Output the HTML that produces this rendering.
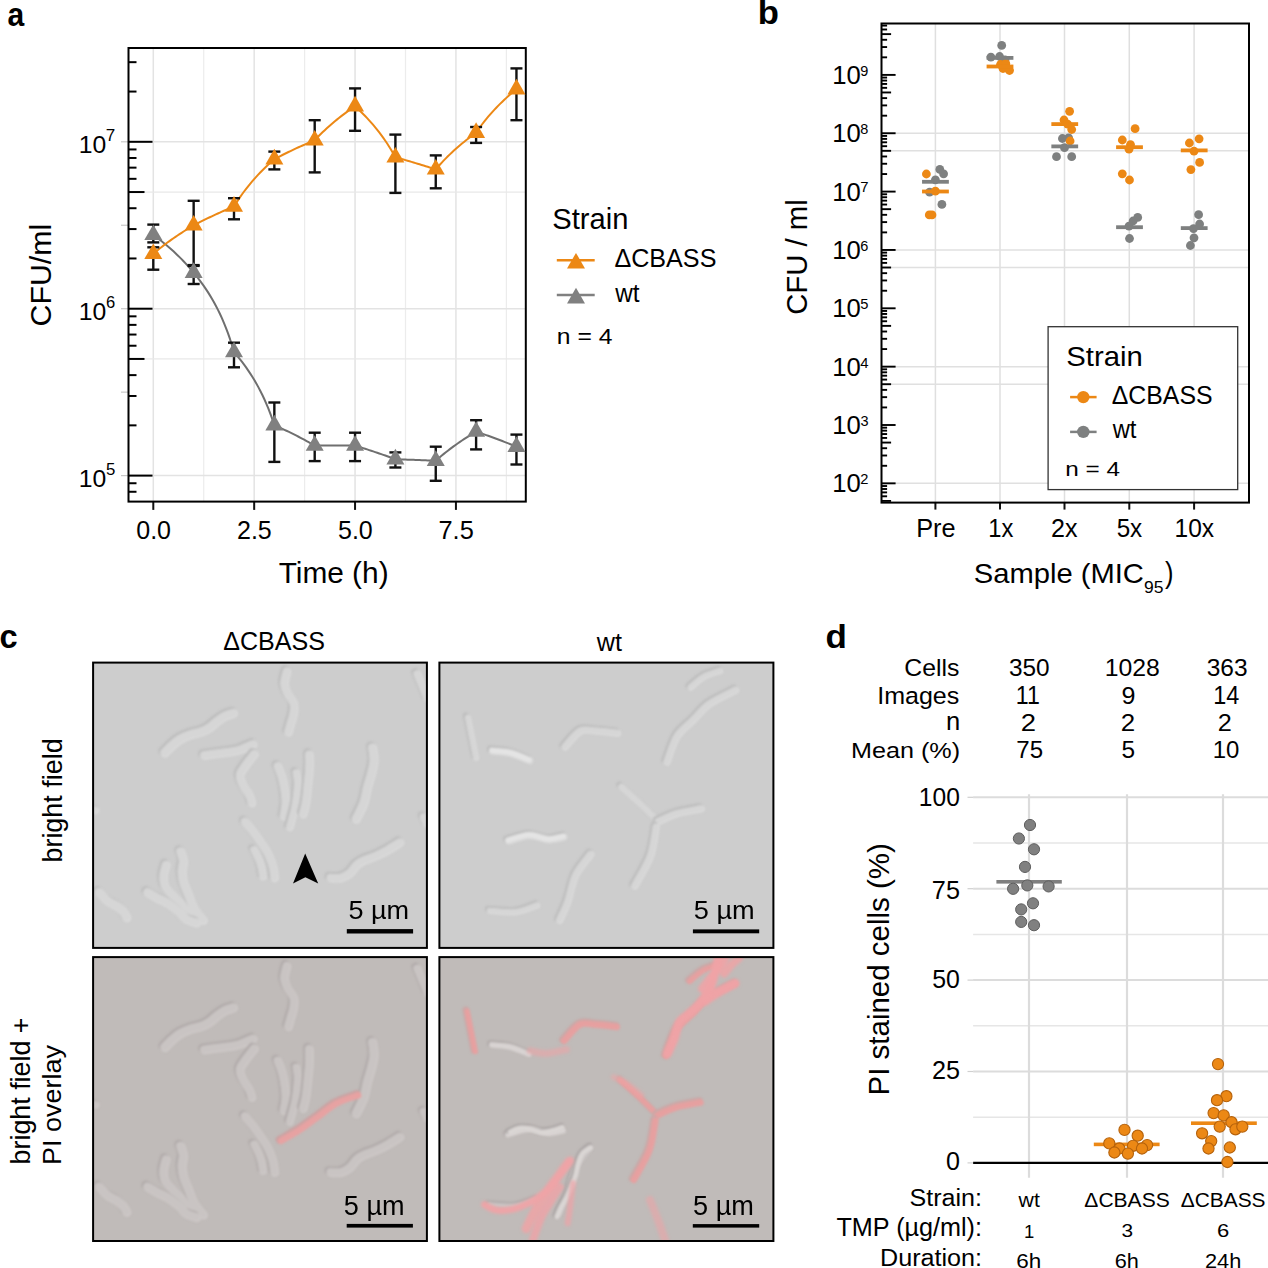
<!DOCTYPE html>
<html><head><meta charset="utf-8"><style>
html,body{margin:0;padding:0;background:#fff;overflow:hidden;}
svg{display:block;}
text{font-family:"Liberation Sans",sans-serif;}
</style></head><body>
<svg width="1268" height="1268" viewBox="0 0 1268 1268">
<rect width="1268" height="1268" fill="#fff"/>
<text transform="translate(7.40,26.17) scale(0.9039,1)" font-size="33.24" font-weight="bold" fill="#000">a</text>
<line x1="153.30" y1="48.00" x2="153.30" y2="501.60" stroke="#E3E3E3" stroke-width="1.5" />
<line x1="203.74" y1="48.00" x2="203.74" y2="501.60" stroke="#ECECEC" stroke-width="1.2" />
<line x1="254.18" y1="48.00" x2="254.18" y2="501.60" stroke="#E3E3E3" stroke-width="1.5" />
<line x1="304.62" y1="48.00" x2="304.62" y2="501.60" stroke="#ECECEC" stroke-width="1.2" />
<line x1="355.06" y1="48.00" x2="355.06" y2="501.60" stroke="#E3E3E3" stroke-width="1.5" />
<line x1="405.50" y1="48.00" x2="405.50" y2="501.60" stroke="#ECECEC" stroke-width="1.2" />
<line x1="455.94" y1="48.00" x2="455.94" y2="501.60" stroke="#E3E3E3" stroke-width="1.5" />
<line x1="506.38" y1="48.00" x2="506.38" y2="501.60" stroke="#ECECEC" stroke-width="1.2" />
<line x1="128.50" y1="475.60" x2="525.80" y2="475.60" stroke="#E3E3E3" stroke-width="1.5" />
<line x1="128.50" y1="358.94" x2="525.80" y2="358.94" stroke="#E8E8E8" stroke-width="1.3" />
<line x1="128.50" y1="308.70" x2="525.80" y2="308.70" stroke="#E3E3E3" stroke-width="1.5" />
<line x1="128.50" y1="192.04" x2="525.80" y2="192.04" stroke="#E8E8E8" stroke-width="1.3" />
<line x1="128.50" y1="141.80" x2="525.80" y2="141.80" stroke="#E3E3E3" stroke-width="1.5" />
<line x1="121.00" y1="475.60" x2="128.50" y2="475.60" stroke="#c8c8c8" stroke-width="1.2" />
<line x1="121.00" y1="392.15" x2="128.50" y2="392.15" stroke="#c8c8c8" stroke-width="1.2" />
<line x1="121.00" y1="308.70" x2="128.50" y2="308.70" stroke="#c8c8c8" stroke-width="1.2" />
<line x1="121.00" y1="225.25" x2="128.50" y2="225.25" stroke="#c8c8c8" stroke-width="1.2" />
<line x1="121.00" y1="141.80" x2="128.50" y2="141.80" stroke="#c8c8c8" stroke-width="1.2" />
<line x1="128.50" y1="491.77" x2="136.50" y2="491.77" stroke="#000" stroke-width="2" />
<line x1="128.50" y1="483.24" x2="136.50" y2="483.24" stroke="#000" stroke-width="2" />
<line x1="128.50" y1="475.60" x2="152.50" y2="475.60" stroke="#000" stroke-width="2" />
<line x1="128.50" y1="425.36" x2="136.50" y2="425.36" stroke="#000" stroke-width="2" />
<line x1="128.50" y1="395.97" x2="136.50" y2="395.97" stroke="#000" stroke-width="2" />
<line x1="128.50" y1="375.12" x2="136.50" y2="375.12" stroke="#000" stroke-width="2" />
<line x1="128.50" y1="358.94" x2="144.50" y2="358.94" stroke="#000" stroke-width="2" />
<line x1="128.50" y1="345.73" x2="136.50" y2="345.73" stroke="#000" stroke-width="2" />
<line x1="128.50" y1="334.55" x2="136.50" y2="334.55" stroke="#000" stroke-width="2" />
<line x1="128.50" y1="324.87" x2="136.50" y2="324.87" stroke="#000" stroke-width="2" />
<line x1="128.50" y1="316.34" x2="136.50" y2="316.34" stroke="#000" stroke-width="2" />
<line x1="128.50" y1="308.70" x2="152.50" y2="308.70" stroke="#000" stroke-width="2" />
<line x1="128.50" y1="258.46" x2="136.50" y2="258.46" stroke="#000" stroke-width="2" />
<line x1="128.50" y1="229.07" x2="136.50" y2="229.07" stroke="#000" stroke-width="2" />
<line x1="128.50" y1="208.22" x2="136.50" y2="208.22" stroke="#000" stroke-width="2" />
<line x1="128.50" y1="192.04" x2="144.50" y2="192.04" stroke="#000" stroke-width="2" />
<line x1="128.50" y1="178.83" x2="136.50" y2="178.83" stroke="#000" stroke-width="2" />
<line x1="128.50" y1="167.65" x2="136.50" y2="167.65" stroke="#000" stroke-width="2" />
<line x1="128.50" y1="157.97" x2="136.50" y2="157.97" stroke="#000" stroke-width="2" />
<line x1="128.50" y1="149.44" x2="136.50" y2="149.44" stroke="#000" stroke-width="2" />
<line x1="128.50" y1="141.80" x2="152.50" y2="141.80" stroke="#000" stroke-width="2" />
<line x1="128.50" y1="91.56" x2="136.50" y2="91.56" stroke="#000" stroke-width="2" />
<line x1="128.50" y1="62.17" x2="136.50" y2="62.17" stroke="#000" stroke-width="2" />
<line x1="153.30" y1="501.60" x2="153.30" y2="509.90" stroke="#111" stroke-width="2" />
<text transform="translate(136.23,539.35)" font-size="25.02" fill="#000">0.0</text>
<line x1="254.18" y1="501.60" x2="254.18" y2="509.90" stroke="#111" stroke-width="2" />
<text transform="translate(237.01,539.35)" font-size="25.02" fill="#000">2.5</text>
<line x1="355.05" y1="501.60" x2="355.05" y2="509.90" stroke="#111" stroke-width="2" />
<text transform="translate(337.98,539.35)" font-size="25.02" fill="#000">5.0</text>
<line x1="455.93" y1="501.60" x2="455.93" y2="509.90" stroke="#111" stroke-width="2" />
<text transform="translate(438.48,539.35)" font-size="25.38" fill="#000">7.5</text>
<rect x="128.5" y="48.0" width="397.29999999999995" height="453.6" fill="none" stroke="#000" stroke-width="2"/>
<text transform="translate(78.86,153.15)" font-size="24.73" fill="#000">10</text>
<text transform="translate(105.86,141.10)" font-size="17.02" fill="#000">7</text>
<text transform="translate(78.86,320.05)" font-size="24.73" fill="#000">10</text>
<text transform="translate(105.95,307.83)" font-size="16.54" fill="#000">6</text>
<text transform="translate(78.86,486.95)" font-size="24.73" fill="#000">10</text>
<text transform="translate(105.95,474.73)" font-size="16.77" fill="#000">5</text>
<text transform="translate(50.50,326.41) rotate(-90) scale(1.0207,1)" font-size="29.66" fill="#000">CFU/ml</text>
<text transform="translate(278.63,583.19) scale(1.0313,1)" font-size="28.95" fill="#000">Time (h)</text>
<path d="M153.30,234.90L155.32,236.39L157.34,237.91L159.35,239.46L161.37,241.04L163.39,242.67L165.41,244.32L167.42,246.02L169.44,247.76L171.46,249.54L173.48,251.36L175.49,253.24L177.51,255.16L179.53,257.13L181.55,259.16L183.56,261.25L185.58,263.40L187.60,265.62L189.62,267.90L191.63,270.26L193.65,272.70L195.67,275.15L197.69,277.69L199.70,280.32L201.72,283.05L203.74,285.89L205.76,288.85L207.77,291.92L209.79,295.14L211.81,298.50L213.83,302.03L215.84,305.74L217.86,309.65L219.88,313.78L221.90,318.16L223.91,322.83L225.93,327.81L227.95,333.16L229.97,338.94L231.98,345.22L234.00,352.10L236.02,354.44L238.04,356.86L240.05,359.36L242.07,361.95L244.09,364.64L246.11,367.42L248.12,370.33L250.14,373.35L252.16,376.50L254.18,379.80L256.19,383.26L258.21,386.88L260.23,390.70L262.25,394.73L264.26,399.00L266.28,403.54L268.30,408.38L270.31,413.56L272.33,419.15L274.35,425.20L276.37,426.09L278.38,427.00L280.40,427.92L282.42,428.85L284.44,429.79L286.46,430.74L288.47,431.71L290.49,432.69L292.51,433.68L294.52,434.68L296.54,435.71L298.56,436.74L300.58,437.79L302.60,438.86L304.61,439.94L306.63,441.03L308.65,442.15L310.67,443.28L312.68,444.43L314.70,445.60L316.72,445.60L318.74,445.60L320.75,445.60L322.77,445.60L324.79,445.60L326.81,445.60L328.82,445.60L330.84,445.60L332.86,445.60L334.88,445.60L336.89,445.60L338.91,445.60L340.93,445.60L342.95,445.60L344.96,445.60L346.98,445.60L349.00,445.60L351.02,445.60L353.03,445.60L355.05,445.60L357.07,446.22L359.09,446.85L361.10,447.48L363.12,448.12L365.14,448.77L367.15,449.42L369.17,450.08L371.19,450.74L373.21,451.41L375.23,452.08L377.24,452.76L379.26,453.45L381.28,454.14L383.30,454.85L385.31,455.55L387.33,456.27L389.35,456.99L391.37,457.72L393.38,458.46L395.40,459.20L397.42,459.27L399.44,459.35L401.45,459.42L403.47,459.50L405.49,459.57L407.50,459.65L409.52,459.72L411.54,459.80L413.56,459.87L415.58,459.95L417.59,460.02L419.61,460.10L421.63,460.17L423.65,460.25L425.66,460.32L427.68,460.40L429.70,460.47L431.72,460.55L433.73,460.62L435.75,460.70L437.77,458.93L439.79,457.20L441.80,455.52L443.82,453.87L445.84,452.26L447.86,450.68L449.87,449.14L451.89,447.63L453.91,446.15L455.93,444.70L457.94,443.28L459.96,441.88L461.98,440.52L464.00,439.17L466.01,437.85L468.03,436.56L470.05,435.29L472.07,434.04L474.08,432.81L476.10,431.60L478.12,432.28L480.13,432.98L482.15,433.67L484.17,434.38L486.19,435.09L488.21,435.81L490.22,436.54L492.24,437.27L494.26,438.01L496.28,438.76L498.29,439.51L500.31,440.28L502.33,441.05L504.34,441.83L506.36,442.62L508.38,443.42L510.40,444.22L512.41,445.04L514.43,445.87L516.45,446.70" fill="none" stroke="#6f6f6f" stroke-width="2" stroke-linejoin="round"/>
<path d="M153.30,253.80L155.32,252.08L157.34,250.40L159.35,248.76L161.37,247.16L163.39,245.59L165.41,244.06L167.42,242.55L169.44,241.08L171.46,239.63L173.48,238.22L175.49,236.83L177.51,235.47L179.53,234.13L181.55,232.82L183.56,231.53L185.58,230.26L187.60,229.01L189.62,227.79L191.63,226.58L193.65,225.40L195.67,224.33L197.69,223.27L199.70,222.23L201.72,221.21L203.74,220.19L205.76,219.20L207.77,218.21L209.79,217.24L211.81,216.28L213.83,215.34L215.84,214.40L217.86,213.48L219.88,212.57L221.90,211.67L223.91,210.78L225.93,209.91L227.95,209.04L229.97,208.18L231.98,207.34L234.00,206.50L236.02,203.24L238.04,200.12L240.05,197.13L242.07,194.25L244.09,191.49L246.11,188.83L248.12,186.26L250.14,183.78L252.16,181.38L254.18,179.06L256.19,176.81L258.21,174.63L260.23,172.51L262.25,170.45L264.26,168.45L266.28,166.50L268.30,164.61L270.31,162.76L272.33,160.96L274.35,159.20L276.37,158.13L278.38,157.07L280.40,156.03L282.42,155.01L284.44,153.99L286.46,153.00L288.47,152.01L290.49,151.04L292.51,150.08L294.52,149.14L296.54,148.20L298.56,147.28L300.58,146.37L302.60,145.47L304.61,144.58L306.63,143.71L308.65,142.84L310.67,141.98L312.68,141.14L314.70,140.30L316.72,138.15L318.74,136.07L320.75,134.05L322.77,132.08L324.79,130.16L326.81,128.29L328.82,126.47L330.84,124.69L332.86,122.96L334.88,121.26L336.89,119.61L338.91,117.99L340.93,116.41L342.95,114.86L344.96,113.34L346.98,111.86L349.00,110.40L351.02,108.97L353.03,107.57L355.05,106.20L357.07,108.06L359.09,109.96L361.10,111.92L363.12,113.93L365.14,116.00L367.15,118.13L369.17,120.33L371.19,122.59L373.21,124.92L375.23,127.34L377.24,129.83L379.26,132.42L381.28,135.10L383.30,137.89L385.31,140.78L387.33,143.80L389.35,146.94L391.37,150.23L393.38,153.68L395.40,157.30L397.42,157.86L399.44,158.42L401.45,158.99L403.47,159.56L405.49,160.14L407.50,160.72L409.52,161.31L411.54,161.90L413.56,162.50L415.58,163.10L417.59,163.70L419.61,164.32L421.63,164.93L423.65,165.55L425.66,166.18L427.68,166.81L429.70,167.45L431.72,168.09L433.73,168.74L435.75,169.40L437.77,167.05L439.79,164.77L441.80,162.57L443.82,160.42L445.84,158.34L447.86,156.32L449.87,154.35L451.89,152.44L453.91,150.57L455.93,148.75L457.94,146.98L459.96,145.24L461.98,143.55L464.00,141.90L466.01,140.28L468.03,138.70L470.05,137.15L472.07,135.64L474.08,134.15L476.10,132.70L478.12,129.78L480.13,126.97L482.15,124.27L484.17,121.66L486.19,119.15L488.21,116.72L490.22,114.36L492.24,112.09L494.26,109.88L496.28,107.73L498.29,105.65L500.31,103.63L502.33,101.66L504.34,99.74L506.36,97.88L508.38,96.06L510.40,94.28L512.41,92.55L514.43,90.85L516.45,89.20" fill="none" stroke="#EC8815" stroke-width="2" stroke-linejoin="round"/>
<line x1="153.30" y1="224.60" x2="153.30" y2="242.40" stroke="#111" stroke-width="2.4" />
<line x1="147.30" y1="224.60" x2="159.30" y2="224.60" stroke="#111" stroke-width="2.4" />
<line x1="147.30" y1="242.40" x2="159.30" y2="242.40" stroke="#111" stroke-width="2.4" />
<line x1="153.30" y1="247.30" x2="153.30" y2="269.70" stroke="#111" stroke-width="2.4" />
<line x1="147.30" y1="247.30" x2="159.30" y2="247.30" stroke="#111" stroke-width="2.4" />
<line x1="147.30" y1="269.70" x2="159.30" y2="269.70" stroke="#111" stroke-width="2.4" />
<line x1="193.65" y1="265.90" x2="193.65" y2="284.00" stroke="#111" stroke-width="2.4" />
<line x1="187.65" y1="265.90" x2="199.65" y2="265.90" stroke="#111" stroke-width="2.4" />
<line x1="187.65" y1="284.00" x2="199.65" y2="284.00" stroke="#111" stroke-width="2.4" />
<line x1="193.65" y1="200.80" x2="193.65" y2="265.10" stroke="#111" stroke-width="2.4" />
<line x1="187.65" y1="200.80" x2="199.65" y2="200.80" stroke="#111" stroke-width="2.4" />
<line x1="187.65" y1="265.10" x2="199.65" y2="265.10" stroke="#111" stroke-width="2.4" />
<line x1="234.00" y1="342.70" x2="234.00" y2="367.30" stroke="#111" stroke-width="2.4" />
<line x1="228.00" y1="342.70" x2="240.00" y2="342.70" stroke="#111" stroke-width="2.4" />
<line x1="228.00" y1="367.30" x2="240.00" y2="367.30" stroke="#111" stroke-width="2.4" />
<line x1="234.00" y1="198.20" x2="234.00" y2="219.30" stroke="#111" stroke-width="2.4" />
<line x1="228.00" y1="198.20" x2="240.00" y2="198.20" stroke="#111" stroke-width="2.4" />
<line x1="228.00" y1="219.30" x2="240.00" y2="219.30" stroke="#111" stroke-width="2.4" />
<line x1="274.35" y1="402.50" x2="274.35" y2="461.90" stroke="#111" stroke-width="2.4" />
<line x1="268.35" y1="402.50" x2="280.35" y2="402.50" stroke="#111" stroke-width="2.4" />
<line x1="268.35" y1="461.90" x2="280.35" y2="461.90" stroke="#111" stroke-width="2.4" />
<line x1="274.35" y1="151.60" x2="274.35" y2="169.40" stroke="#111" stroke-width="2.4" />
<line x1="268.35" y1="151.60" x2="280.35" y2="151.60" stroke="#111" stroke-width="2.4" />
<line x1="268.35" y1="169.40" x2="280.35" y2="169.40" stroke="#111" stroke-width="2.4" />
<line x1="314.70" y1="432.70" x2="314.70" y2="461.10" stroke="#111" stroke-width="2.4" />
<line x1="308.70" y1="432.70" x2="320.70" y2="432.70" stroke="#111" stroke-width="2.4" />
<line x1="308.70" y1="461.10" x2="320.70" y2="461.10" stroke="#111" stroke-width="2.4" />
<line x1="314.70" y1="120.20" x2="314.70" y2="172.40" stroke="#111" stroke-width="2.4" />
<line x1="308.70" y1="120.20" x2="320.70" y2="120.20" stroke="#111" stroke-width="2.4" />
<line x1="308.70" y1="172.40" x2="320.70" y2="172.40" stroke="#111" stroke-width="2.4" />
<line x1="355.05" y1="432.70" x2="355.05" y2="461.10" stroke="#111" stroke-width="2.4" />
<line x1="349.05" y1="432.70" x2="361.05" y2="432.70" stroke="#111" stroke-width="2.4" />
<line x1="349.05" y1="461.10" x2="361.05" y2="461.10" stroke="#111" stroke-width="2.4" />
<line x1="355.05" y1="88.40" x2="355.05" y2="130.80" stroke="#111" stroke-width="2.4" />
<line x1="349.05" y1="88.40" x2="361.05" y2="88.40" stroke="#111" stroke-width="2.4" />
<line x1="349.05" y1="130.80" x2="361.05" y2="130.80" stroke="#111" stroke-width="2.4" />
<line x1="395.40" y1="452.40" x2="395.40" y2="467.50" stroke="#111" stroke-width="2.4" />
<line x1="389.40" y1="452.40" x2="401.40" y2="452.40" stroke="#111" stroke-width="2.4" />
<line x1="389.40" y1="467.50" x2="401.40" y2="467.50" stroke="#111" stroke-width="2.4" />
<line x1="395.40" y1="134.60" x2="395.40" y2="192.90" stroke="#111" stroke-width="2.4" />
<line x1="389.40" y1="134.60" x2="401.40" y2="134.60" stroke="#111" stroke-width="2.4" />
<line x1="389.40" y1="192.90" x2="401.40" y2="192.90" stroke="#111" stroke-width="2.4" />
<line x1="435.75" y1="446.70" x2="435.75" y2="480.80" stroke="#111" stroke-width="2.4" />
<line x1="429.75" y1="446.70" x2="441.75" y2="446.70" stroke="#111" stroke-width="2.4" />
<line x1="429.75" y1="480.80" x2="441.75" y2="480.80" stroke="#111" stroke-width="2.4" />
<line x1="435.75" y1="155.40" x2="435.75" y2="188.30" stroke="#111" stroke-width="2.4" />
<line x1="429.75" y1="155.40" x2="441.75" y2="155.40" stroke="#111" stroke-width="2.4" />
<line x1="429.75" y1="188.30" x2="441.75" y2="188.30" stroke="#111" stroke-width="2.4" />
<line x1="476.10" y1="420.20" x2="476.10" y2="449.40" stroke="#111" stroke-width="2.4" />
<line x1="470.10" y1="420.20" x2="482.10" y2="420.20" stroke="#111" stroke-width="2.4" />
<line x1="470.10" y1="449.40" x2="482.10" y2="449.40" stroke="#111" stroke-width="2.4" />
<line x1="476.10" y1="127.00" x2="476.10" y2="142.90" stroke="#111" stroke-width="2.4" />
<line x1="470.10" y1="127.00" x2="482.10" y2="127.00" stroke="#111" stroke-width="2.4" />
<line x1="470.10" y1="142.90" x2="482.10" y2="142.90" stroke="#111" stroke-width="2.4" />
<line x1="516.45" y1="434.60" x2="516.45" y2="464.50" stroke="#111" stroke-width="2.4" />
<line x1="510.45" y1="434.60" x2="522.45" y2="434.60" stroke="#111" stroke-width="2.4" />
<line x1="510.45" y1="464.50" x2="522.45" y2="464.50" stroke="#111" stroke-width="2.4" />
<line x1="516.45" y1="68.40" x2="516.45" y2="120.20" stroke="#111" stroke-width="2.4" />
<line x1="510.45" y1="68.40" x2="522.45" y2="68.40" stroke="#111" stroke-width="2.4" />
<line x1="510.45" y1="120.20" x2="522.45" y2="120.20" stroke="#111" stroke-width="2.4" />
<path d="M153.30,224.51 L162.30,240.09 L144.30,240.09Z" fill="#808080"/>
<path d="M193.65,262.31 L202.65,277.89 L184.65,277.89Z" fill="#808080"/>
<path d="M234.00,341.71 L243.00,357.29 L225.00,357.29Z" fill="#808080"/>
<path d="M274.35,414.81 L283.35,430.39 L265.35,430.39Z" fill="#808080"/>
<path d="M314.70,435.21 L323.70,450.79 L305.70,450.79Z" fill="#808080"/>
<path d="M355.05,435.21 L364.05,450.79 L346.05,450.79Z" fill="#808080"/>
<path d="M395.40,448.81 L404.40,464.39 L386.40,464.39Z" fill="#808080"/>
<path d="M435.75,450.31 L444.75,465.89 L426.75,465.89Z" fill="#808080"/>
<path d="M476.10,421.21 L485.10,436.79 L467.10,436.79Z" fill="#808080"/>
<path d="M516.45,436.31 L525.45,451.89 L507.45,451.89Z" fill="#808080"/>
<path d="M153.30,243.41 L162.30,258.99 L144.30,258.99Z" fill="#EC8815"/>
<path d="M193.65,215.01 L202.65,230.59 L184.65,230.59Z" fill="#EC8815"/>
<path d="M234.00,196.11 L243.00,211.69 L225.00,211.69Z" fill="#EC8815"/>
<path d="M274.35,148.81 L283.35,164.39 L265.35,164.39Z" fill="#EC8815"/>
<path d="M314.70,129.91 L323.70,145.49 L305.70,145.49Z" fill="#EC8815"/>
<path d="M355.05,95.81 L364.05,111.39 L346.05,111.39Z" fill="#EC8815"/>
<path d="M395.40,146.91 L404.40,162.49 L386.40,162.49Z" fill="#EC8815"/>
<path d="M435.75,159.01 L444.75,174.59 L426.75,174.59Z" fill="#EC8815"/>
<path d="M476.10,122.31 L485.10,137.89 L467.10,137.89Z" fill="#EC8815"/>
<path d="M516.45,78.81 L525.45,94.39 L507.45,94.39Z" fill="#EC8815"/>
<text transform="translate(552.29,228.51) scale(1.0206,1)" font-size="28.57" fill="#000">Strain</text>
<line x1="556.80" y1="260.20" x2="594.70" y2="260.20" stroke="#EC8815" stroke-width="2.5" />
<path d="M576.00,252.91 L585.00,268.49 L567.00,268.49Z" fill="#EC8815"/>
<line x1="556.80" y1="294.90" x2="594.70" y2="294.90" stroke="#808080" stroke-width="2.5" />
<path d="M576.00,287.81 L585.00,303.39 L567.00,303.39Z" fill="#808080"/>
<text transform="translate(614.45,267.14) scale(0.9661,1)" font-size="26.01" fill="#000">&#916;CBASS</text>
<text transform="translate(615.20,301.81) scale(0.9431,1)" font-size="25.75" fill="#000">wt</text>
<text transform="translate(556.83,343.70) scale(1.1166,1)" font-size="22.11" fill="#000">n = 4</text>
<text transform="translate(757.65,23.70) scale(1.0213,1)" font-size="33.93" font-weight="bold" fill="#000">b</text>
<line x1="935.40" y1="23.50" x2="935.40" y2="502.60" stroke="#DFDFDF" stroke-width="1.5" />
<line x1="1000.00" y1="23.50" x2="1000.00" y2="502.60" stroke="#DFDFDF" stroke-width="1.5" />
<line x1="1064.50" y1="23.50" x2="1064.50" y2="502.60" stroke="#DFDFDF" stroke-width="1.5" />
<line x1="1129.30" y1="23.50" x2="1129.30" y2="502.60" stroke="#DFDFDF" stroke-width="1.5" />
<line x1="1194.10" y1="23.50" x2="1194.10" y2="502.60" stroke="#DFDFDF" stroke-width="1.5" />
<line x1="881.50" y1="133.25" x2="1249.00" y2="133.25" stroke="#E0E0E0" stroke-width="1.5" />
<line x1="881.50" y1="150.82" x2="1249.00" y2="150.82" stroke="#E0E0E0" stroke-width="1.5" />
<line x1="881.50" y1="249.95" x2="1249.00" y2="249.95" stroke="#E0E0E0" stroke-width="1.5" />
<line x1="881.50" y1="267.52" x2="1249.00" y2="267.52" stroke="#E0E0E0" stroke-width="1.5" />
<line x1="881.50" y1="366.65" x2="1249.00" y2="366.65" stroke="#E0E0E0" stroke-width="1.5" />
<line x1="881.50" y1="384.22" x2="1249.00" y2="384.22" stroke="#E0E0E0" stroke-width="1.5" />
<line x1="881.50" y1="483.35" x2="1249.00" y2="483.35" stroke="#E0E0E0" stroke-width="1.5" />
<line x1="881.50" y1="500.92" x2="891.10" y2="500.92" stroke="#000" stroke-width="1.9" />
<line x1="881.50" y1="496.29" x2="887.10" y2="496.29" stroke="#000" stroke-width="1.9" />
<line x1="881.50" y1="492.39" x2="887.10" y2="492.39" stroke="#000" stroke-width="1.9" />
<line x1="881.50" y1="489.00" x2="887.10" y2="489.00" stroke="#000" stroke-width="1.9" />
<line x1="881.50" y1="486.02" x2="887.10" y2="486.02" stroke="#000" stroke-width="1.9" />
<line x1="881.50" y1="483.35" x2="895.60" y2="483.35" stroke="#000" stroke-width="1.9" />
<line x1="881.50" y1="465.78" x2="887.10" y2="465.78" stroke="#000" stroke-width="1.9" />
<line x1="881.50" y1="455.51" x2="887.10" y2="455.51" stroke="#000" stroke-width="1.9" />
<line x1="881.50" y1="448.22" x2="887.10" y2="448.22" stroke="#000" stroke-width="1.9" />
<line x1="881.50" y1="442.57" x2="891.10" y2="442.57" stroke="#000" stroke-width="1.9" />
<line x1="881.50" y1="437.94" x2="887.10" y2="437.94" stroke="#000" stroke-width="1.9" />
<line x1="881.50" y1="434.04" x2="887.10" y2="434.04" stroke="#000" stroke-width="1.9" />
<line x1="881.50" y1="430.65" x2="887.10" y2="430.65" stroke="#000" stroke-width="1.9" />
<line x1="881.50" y1="427.67" x2="887.10" y2="427.67" stroke="#000" stroke-width="1.9" />
<line x1="881.50" y1="425.00" x2="895.60" y2="425.00" stroke="#000" stroke-width="1.9" />
<line x1="881.50" y1="407.43" x2="887.10" y2="407.43" stroke="#000" stroke-width="1.9" />
<line x1="881.50" y1="397.16" x2="887.10" y2="397.16" stroke="#000" stroke-width="1.9" />
<line x1="881.50" y1="389.87" x2="887.10" y2="389.87" stroke="#000" stroke-width="1.9" />
<line x1="881.50" y1="384.22" x2="891.10" y2="384.22" stroke="#000" stroke-width="1.9" />
<line x1="881.50" y1="379.59" x2="887.10" y2="379.59" stroke="#000" stroke-width="1.9" />
<line x1="881.50" y1="375.69" x2="887.10" y2="375.69" stroke="#000" stroke-width="1.9" />
<line x1="881.50" y1="372.30" x2="887.10" y2="372.30" stroke="#000" stroke-width="1.9" />
<line x1="881.50" y1="369.32" x2="887.10" y2="369.32" stroke="#000" stroke-width="1.9" />
<line x1="881.50" y1="366.65" x2="895.60" y2="366.65" stroke="#000" stroke-width="1.9" />
<line x1="881.50" y1="349.08" x2="887.10" y2="349.08" stroke="#000" stroke-width="1.9" />
<line x1="881.50" y1="338.81" x2="887.10" y2="338.81" stroke="#000" stroke-width="1.9" />
<line x1="881.50" y1="331.52" x2="887.10" y2="331.52" stroke="#000" stroke-width="1.9" />
<line x1="881.50" y1="325.87" x2="891.10" y2="325.87" stroke="#000" stroke-width="1.9" />
<line x1="881.50" y1="321.24" x2="887.10" y2="321.24" stroke="#000" stroke-width="1.9" />
<line x1="881.50" y1="317.34" x2="887.10" y2="317.34" stroke="#000" stroke-width="1.9" />
<line x1="881.50" y1="313.95" x2="887.10" y2="313.95" stroke="#000" stroke-width="1.9" />
<line x1="881.50" y1="310.97" x2="887.10" y2="310.97" stroke="#000" stroke-width="1.9" />
<line x1="881.50" y1="308.30" x2="895.60" y2="308.30" stroke="#000" stroke-width="1.9" />
<line x1="881.50" y1="290.73" x2="887.10" y2="290.73" stroke="#000" stroke-width="1.9" />
<line x1="881.50" y1="280.46" x2="887.10" y2="280.46" stroke="#000" stroke-width="1.9" />
<line x1="881.50" y1="273.17" x2="887.10" y2="273.17" stroke="#000" stroke-width="1.9" />
<line x1="881.50" y1="267.52" x2="891.10" y2="267.52" stroke="#000" stroke-width="1.9" />
<line x1="881.50" y1="262.89" x2="887.10" y2="262.89" stroke="#000" stroke-width="1.9" />
<line x1="881.50" y1="258.99" x2="887.10" y2="258.99" stroke="#000" stroke-width="1.9" />
<line x1="881.50" y1="255.60" x2="887.10" y2="255.60" stroke="#000" stroke-width="1.9" />
<line x1="881.50" y1="252.62" x2="887.10" y2="252.62" stroke="#000" stroke-width="1.9" />
<line x1="881.50" y1="249.95" x2="895.60" y2="249.95" stroke="#000" stroke-width="1.9" />
<line x1="881.50" y1="232.38" x2="887.10" y2="232.38" stroke="#000" stroke-width="1.9" />
<line x1="881.50" y1="222.11" x2="887.10" y2="222.11" stroke="#000" stroke-width="1.9" />
<line x1="881.50" y1="214.82" x2="887.10" y2="214.82" stroke="#000" stroke-width="1.9" />
<line x1="881.50" y1="209.17" x2="891.10" y2="209.17" stroke="#000" stroke-width="1.9" />
<line x1="881.50" y1="204.54" x2="887.10" y2="204.54" stroke="#000" stroke-width="1.9" />
<line x1="881.50" y1="200.64" x2="887.10" y2="200.64" stroke="#000" stroke-width="1.9" />
<line x1="881.50" y1="197.25" x2="887.10" y2="197.25" stroke="#000" stroke-width="1.9" />
<line x1="881.50" y1="194.27" x2="887.10" y2="194.27" stroke="#000" stroke-width="1.9" />
<line x1="881.50" y1="191.60" x2="895.60" y2="191.60" stroke="#000" stroke-width="1.9" />
<line x1="881.50" y1="174.03" x2="887.10" y2="174.03" stroke="#000" stroke-width="1.9" />
<line x1="881.50" y1="163.76" x2="887.10" y2="163.76" stroke="#000" stroke-width="1.9" />
<line x1="881.50" y1="156.47" x2="887.10" y2="156.47" stroke="#000" stroke-width="1.9" />
<line x1="881.50" y1="150.82" x2="891.10" y2="150.82" stroke="#000" stroke-width="1.9" />
<line x1="881.50" y1="146.19" x2="887.10" y2="146.19" stroke="#000" stroke-width="1.9" />
<line x1="881.50" y1="142.29" x2="887.10" y2="142.29" stroke="#000" stroke-width="1.9" />
<line x1="881.50" y1="138.90" x2="887.10" y2="138.90" stroke="#000" stroke-width="1.9" />
<line x1="881.50" y1="135.92" x2="887.10" y2="135.92" stroke="#000" stroke-width="1.9" />
<line x1="881.50" y1="133.25" x2="895.60" y2="133.25" stroke="#000" stroke-width="1.9" />
<line x1="881.50" y1="115.68" x2="887.10" y2="115.68" stroke="#000" stroke-width="1.9" />
<line x1="881.50" y1="105.41" x2="887.10" y2="105.41" stroke="#000" stroke-width="1.9" />
<line x1="881.50" y1="98.12" x2="887.10" y2="98.12" stroke="#000" stroke-width="1.9" />
<line x1="881.50" y1="92.47" x2="891.10" y2="92.47" stroke="#000" stroke-width="1.9" />
<line x1="881.50" y1="87.84" x2="887.10" y2="87.84" stroke="#000" stroke-width="1.9" />
<line x1="881.50" y1="83.94" x2="887.10" y2="83.94" stroke="#000" stroke-width="1.9" />
<line x1="881.50" y1="80.55" x2="887.10" y2="80.55" stroke="#000" stroke-width="1.9" />
<line x1="881.50" y1="77.57" x2="887.10" y2="77.57" stroke="#000" stroke-width="1.9" />
<line x1="881.50" y1="74.90" x2="895.60" y2="74.90" stroke="#000" stroke-width="1.9" />
<line x1="881.50" y1="57.33" x2="887.10" y2="57.33" stroke="#000" stroke-width="1.9" />
<line x1="881.50" y1="47.06" x2="887.10" y2="47.06" stroke="#000" stroke-width="1.9" />
<line x1="881.50" y1="39.77" x2="887.10" y2="39.77" stroke="#000" stroke-width="1.9" />
<line x1="881.50" y1="34.12" x2="891.10" y2="34.12" stroke="#000" stroke-width="1.9" />
<line x1="881.50" y1="29.49" x2="887.10" y2="29.49" stroke="#000" stroke-width="1.9" />
<line x1="881.50" y1="25.59" x2="887.10" y2="25.59" stroke="#000" stroke-width="1.9" />
<line x1="935.40" y1="502.60" x2="935.40" y2="509.60" stroke="#111" stroke-width="2" />
<line x1="1000.00" y1="502.60" x2="1000.00" y2="509.60" stroke="#111" stroke-width="2" />
<line x1="1064.50" y1="502.60" x2="1064.50" y2="509.60" stroke="#111" stroke-width="2" />
<line x1="1129.30" y1="502.60" x2="1129.30" y2="509.60" stroke="#111" stroke-width="2" />
<line x1="1194.10" y1="502.60" x2="1194.10" y2="509.60" stroke="#111" stroke-width="2" />
<rect x="881.5" y="23.5" width="367.5" height="479.1" fill="none" stroke="#000" stroke-width="2"/>
<text transform="translate(832.23,492.44)" font-size="25.65" fill="#000">10</text>
<text transform="translate(860.30,484.20)" font-size="14.70" fill="#000">2</text>
<text transform="translate(832.23,434.09)" font-size="25.65" fill="#000">10</text>
<text transform="translate(860.39,425.71)" font-size="14.49" fill="#000">3</text>
<text transform="translate(832.23,375.74)" font-size="25.65" fill="#000">10</text>
<text transform="translate(860.27,367.50)" font-size="14.91" fill="#000">4</text>
<text transform="translate(832.23,317.39)" font-size="25.65" fill="#000">10</text>
<text transform="translate(860.30,309.00)" font-size="14.70" fill="#000">5</text>
<text transform="translate(832.23,259.04)" font-size="25.65" fill="#000">10</text>
<text transform="translate(860.30,250.66)" font-size="14.49" fill="#000">6</text>
<text transform="translate(832.23,200.69)" font-size="25.65" fill="#000">10</text>
<text transform="translate(860.22,192.45)" font-size="14.91" fill="#000">7</text>
<text transform="translate(832.23,142.34)" font-size="25.65" fill="#000">10</text>
<text transform="translate(860.35,133.96)" font-size="14.49" fill="#000">8</text>
<text transform="translate(832.23,83.99)" font-size="25.65" fill="#000">10</text>
<text transform="translate(860.34,75.61)" font-size="14.49" fill="#000">9</text>
<text transform="translate(807.11,314.87) rotate(-90) scale(1.0163,1)" font-size="28.84" fill="#000">CFU / ml</text>
<text transform="translate(916.21,536.94) scale(0.9702,1)" font-size="26.09" fill="#000">Pre</text>
<text transform="translate(988.22,537.20) scale(0.8980,1)" font-size="26.47" fill="#000">1x</text>
<text transform="translate(1051.05,537.20) scale(0.9615,1)" font-size="26.09" fill="#000">2x</text>
<text transform="translate(1116.63,536.94) scale(0.9290,1)" font-size="26.09" fill="#000">5x</text>
<text transform="translate(1174.56,536.94) scale(0.9534,1)" font-size="25.72" fill="#000">10x</text>
<text transform="translate(973.79,582.71) scale(1.0460,1)" font-size="27.88" fill="#000">Sample (MIC</text>
<text transform="translate(1143.97,592.53) scale(1.0321,1)" font-size="16.96" fill="#000">95</text>
<text transform="translate(1164.91,583.10) scale(0.8686,1)" font-size="29.38" fill="#000">)</text>
<circle cx="939.80" cy="169.40" r="4.4" fill="#7E8080"/>
<circle cx="943.60" cy="173.80" r="4.4" fill="#7E8080"/>
<circle cx="935.40" cy="179.90" r="4.4" fill="#7E8080"/>
<circle cx="929.60" cy="192.20" r="4.4" fill="#7E8080"/>
<circle cx="941.90" cy="204.40" r="4.4" fill="#7E8080"/>
<circle cx="1001.70" cy="45.40" r="4.4" fill="#7E8080"/>
<circle cx="990.90" cy="57.10" r="4.4" fill="#7E8080"/>
<circle cx="999.60" cy="56.50" r="4.4" fill="#7E8080"/>
<circle cx="1005.00" cy="60.00" r="4.4" fill="#7E8080"/>
<circle cx="1062.40" cy="138.50" r="4.4" fill="#7E8080"/>
<circle cx="1068.60" cy="137.90" r="4.4" fill="#7E8080"/>
<circle cx="1064.50" cy="147.70" r="4.4" fill="#7E8080"/>
<circle cx="1056.50" cy="156.70" r="4.4" fill="#7E8080"/>
<circle cx="1071.70" cy="156.70" r="4.4" fill="#7E8080"/>
<circle cx="1137.70" cy="217.40" r="4.4" fill="#7E8080"/>
<circle cx="1133.10" cy="221.00" r="4.4" fill="#7E8080"/>
<circle cx="1129.00" cy="226.20" r="4.4" fill="#7E8080"/>
<circle cx="1129.50" cy="238.50" r="4.4" fill="#7E8080"/>
<circle cx="1198.60" cy="214.70" r="4.4" fill="#7E8080"/>
<circle cx="1199.60" cy="224.00" r="4.4" fill="#7E8080"/>
<circle cx="1193.50" cy="228.60" r="4.4" fill="#7E8080"/>
<circle cx="1194.00" cy="237.80" r="4.4" fill="#7E8080"/>
<circle cx="1190.40" cy="245.50" r="4.4" fill="#7E8080"/>
<circle cx="926.40" cy="174.00" r="4.4" fill="#EC8815"/>
<circle cx="929.30" cy="214.90" r="4.4" fill="#EC8815"/>
<circle cx="932.00" cy="214.90" r="4.4" fill="#EC8815"/>
<circle cx="935.40" cy="191.20" r="4.4" fill="#EC8815"/>
<circle cx="1000.50" cy="64.50" r="4.4" fill="#EC8815"/>
<circle cx="1005.80" cy="63.50" r="4.4" fill="#EC8815"/>
<circle cx="1003.00" cy="68.50" r="4.4" fill="#EC8815"/>
<circle cx="1008.90" cy="69.30" r="4.4" fill="#EC8815"/>
<circle cx="1009.50" cy="70.50" r="4.4" fill="#EC8815"/>
<circle cx="1069.60" cy="111.30" r="4.4" fill="#EC8815"/>
<circle cx="1064.00" cy="120.00" r="4.4" fill="#EC8815"/>
<circle cx="1067.60" cy="124.10" r="4.4" fill="#EC8815"/>
<circle cx="1071.70" cy="129.50" r="4.4" fill="#EC8815"/>
<circle cx="1070.10" cy="141.00" r="4.4" fill="#EC8815"/>
<circle cx="1135.10" cy="128.70" r="4.4" fill="#EC8815"/>
<circle cx="1122.30" cy="140.00" r="4.4" fill="#EC8815"/>
<circle cx="1130.50" cy="144.60" r="4.4" fill="#EC8815"/>
<circle cx="1129.00" cy="149.20" r="4.4" fill="#EC8815"/>
<circle cx="1122.30" cy="173.80" r="4.4" fill="#EC8815"/>
<circle cx="1129.50" cy="180.00" r="4.4" fill="#EC8815"/>
<circle cx="1199.10" cy="138.80" r="4.4" fill="#EC8815"/>
<circle cx="1189.40" cy="143.00" r="4.4" fill="#EC8815"/>
<circle cx="1194.00" cy="151.20" r="4.4" fill="#EC8815"/>
<circle cx="1199.60" cy="162.40" r="4.4" fill="#EC8815"/>
<circle cx="1190.90" cy="169.60" r="4.4" fill="#EC8815"/>
<rect x="922.05" y="179.90" width="26.8" height="3.8" fill="#7E8080"/>
<rect x="986.60" y="56.00" width="26.8" height="3.8" fill="#7E8080"/>
<rect x="1051.35" y="144.50" width="26.8" height="3.8" fill="#7E8080"/>
<rect x="1116.10" y="225.30" width="26.8" height="3.8" fill="#7E8080"/>
<rect x="1180.80" y="226.20" width="26.8" height="3.8" fill="#7E8080"/>
<rect x="922.05" y="189.60" width="26.8" height="3.8" fill="#EC8815"/>
<rect x="986.60" y="64.60" width="26.8" height="3.8" fill="#EC8815"/>
<rect x="1051.35" y="122.20" width="26.8" height="3.8" fill="#EC8815"/>
<rect x="1116.10" y="145.30" width="26.8" height="3.8" fill="#EC8815"/>
<rect x="1180.80" y="148.50" width="26.8" height="3.8" fill="#EC8815"/>
<rect x="1048.1" y="326.7" width="189.6" height="162.9" fill="#fff" stroke="#333" stroke-width="1.3"/>
<text transform="translate(1066.28,365.63) scale(1.0654,1)" font-size="27.48" fill="#000">Strain</text>
<line x1="1070.10" y1="397.10" x2="1096.60" y2="397.10" stroke="#EC8815" stroke-width="2.5" />
<circle cx="1083.30" cy="397.10" r="6.2" fill="#EC8815"/>
<line x1="1070.10" y1="431.90" x2="1096.60" y2="431.90" stroke="#7E8080" stroke-width="2.5" />
<circle cx="1083.30" cy="431.90" r="6.2" fill="#7E8080"/>
<text transform="translate(1111.65,403.55) scale(0.9943,1)" font-size="25.02" fill="#000">&#916;CBASS</text>
<text transform="translate(1112.70,438.31) scale(0.9461,1)" font-size="25.13" fill="#000">wt</text>
<text transform="translate(1065.26,475.70) scale(1.1529,1)" font-size="21.09" fill="#000">n = 4</text>
<text transform="translate(-0.40,647.57) scale(0.9921,1)" font-size="32.88" font-weight="bold" fill="#000">c</text>
<text transform="translate(223.25,650.44) scale(0.9694,1)" font-size="25.87" fill="#000">&#916;CBASS</text>
<text transform="translate(596.80,650.81) scale(0.9725,1)" font-size="25.90" fill="#000">wt</text>
<text transform="translate(62.45,862.55) rotate(-90) scale(0.9888,1)" font-size="27.24" fill="#000">bright field</text>
<text transform="translate(29.53,1164.45) rotate(-90) scale(0.9820,1)" font-size="27.35" fill="#000">bright field +</text>
<text transform="translate(61.36,1164.93) rotate(-90) scale(1.0483,1)" font-size="25.74" fill="#000">PI overlay</text>
<defs><filter id="bl" x="-5%" y="-5%" width="110%" height="110%"><feGaussianBlur stdDeviation="0.9"/></filter><filter id="bl2" x="-5%" y="-5%" width="110%" height="110%"><feGaussianBlur stdDeviation="1.6"/></filter></defs>
<clipPath id="cp0"><rect x="93.1" y="662.6" width="333.79999999999995" height="285.29999999999995"/></clipPath>
<clipPath id="cp1"><rect x="439.4" y="662.6" width="334.0" height="285.29999999999995"/></clipPath>
<clipPath id="cp2"><rect x="93.1" y="957.1" width="333.79999999999995" height="283.9"/></clipPath>
<clipPath id="cp3"><rect x="439.4" y="957.1" width="334.0" height="283.9"/></clipPath>
<rect x="93.1" y="662.6" width="333.79999999999995" height="285.29999999999995" fill="#CDCDCD"/>
<g clip-path="url(#cp0)"><g filter="url(#bl)">
<path d="M164.20,752.20 C165.52,750.88 169.47,746.62 172.10,744.30 C174.73,741.98 176.92,740.07 180.00,738.30 C183.08,736.53 187.08,734.90 190.60,733.70 C194.12,732.50 198.03,732.20 201.10,731.10 C204.17,730.00 206.37,728.87 209.00,727.10 C211.63,725.33 214.27,722.47 216.90,720.50 C219.53,718.53 222.17,716.62 224.80,715.30 C227.43,713.98 231.38,713.05 232.70,712.60" transform="translate(-1.3,-1.3)" fill="none" stroke="#BDBDBD" stroke-width="9" stroke-linecap="round" stroke-linejoin="round"/>
<path d="M164.20,752.20 C165.52,750.88 169.47,746.62 172.10,744.30 C174.73,741.98 176.92,740.07 180.00,738.30 C183.08,736.53 187.08,734.90 190.60,733.70 C194.12,732.50 198.03,732.20 201.10,731.10 C204.17,730.00 206.37,728.87 209.00,727.10 C211.63,725.33 214.27,722.47 216.90,720.50 C219.53,718.53 222.17,716.62 224.80,715.30 C227.43,713.98 231.38,713.05 232.70,712.60" transform="translate(1,1)" fill="none" stroke="#D9D9D9" stroke-width="9" stroke-linecap="round" stroke-linejoin="round"/>
<path d="M164.20,752.20 C165.52,750.88 169.47,746.62 172.10,744.30 C174.73,741.98 176.92,740.07 180.00,738.30 C183.08,736.53 187.08,734.90 190.60,733.70 C194.12,732.50 198.03,732.20 201.10,731.10 C204.17,730.00 206.37,728.87 209.00,727.10 C211.63,725.33 214.27,722.47 216.90,720.50 C219.53,718.53 222.17,716.62 224.80,715.30 C227.43,713.98 231.38,713.05 232.70,712.60" fill="none" stroke="#D6D6D6" stroke-width="7.5" stroke-linecap="round" stroke-linejoin="round"/>
<path d="M203.70,754.80 C205.02,754.58 208.52,753.93 211.60,753.50 C214.68,753.07 218.68,752.65 222.20,752.20 C225.72,751.75 229.42,751.47 232.70,750.80 C235.98,750.13 238.60,749.40 241.90,748.20 C245.20,747.00 250.73,744.37 252.50,743.60" transform="translate(-1.3,-1.3)" fill="none" stroke="#BDBDBD" stroke-width="8.5" stroke-linecap="round" stroke-linejoin="round"/>
<path d="M203.70,754.80 C205.02,754.58 208.52,753.93 211.60,753.50 C214.68,753.07 218.68,752.65 222.20,752.20 C225.72,751.75 229.42,751.47 232.70,750.80 C235.98,750.13 238.60,749.40 241.90,748.20 C245.20,747.00 250.73,744.37 252.50,743.60" transform="translate(1,1)" fill="none" stroke="#D9D9D9" stroke-width="8.5" stroke-linecap="round" stroke-linejoin="round"/>
<path d="M203.70,754.80 C205.02,754.58 208.52,753.93 211.60,753.50 C214.68,753.07 218.68,752.65 222.20,752.20 C225.72,751.75 229.42,751.47 232.70,750.80 C235.98,750.13 238.60,749.40 241.90,748.20 C245.20,747.00 250.73,744.37 252.50,743.60" fill="none" stroke="#D6D6D6" stroke-width="7.0" stroke-linecap="round" stroke-linejoin="round"/>
<path d="M253.80,753.50 C252.27,755.47 247.02,761.80 244.60,765.30 C242.18,768.80 239.75,771.42 239.30,774.50 C238.85,777.58 240.37,780.50 241.90,783.80 C243.43,787.10 246.97,791.23 248.50,794.30 C250.03,797.37 250.67,800.88 251.10,802.20" transform="translate(-1.3,-1.3)" fill="none" stroke="#BDBDBD" stroke-width="8.5" stroke-linecap="round" stroke-linejoin="round"/>
<path d="M253.80,753.50 C252.27,755.47 247.02,761.80 244.60,765.30 C242.18,768.80 239.75,771.42 239.30,774.50 C238.85,777.58 240.37,780.50 241.90,783.80 C243.43,787.10 246.97,791.23 248.50,794.30 C250.03,797.37 250.67,800.88 251.10,802.20" transform="translate(1,1)" fill="none" stroke="#D9D9D9" stroke-width="8.5" stroke-linecap="round" stroke-linejoin="round"/>
<path d="M253.80,753.50 C252.27,755.47 247.02,761.80 244.60,765.30 C242.18,768.80 239.75,771.42 239.30,774.50 C238.85,777.58 240.37,780.50 241.90,783.80 C243.43,787.10 246.97,791.23 248.50,794.30 C250.03,797.37 250.67,800.88 251.10,802.20" fill="none" stroke="#D6D6D6" stroke-width="7.0" stroke-linecap="round" stroke-linejoin="round"/>
<path d="M180.00,851.10 C180.45,852.63 182.48,857.00 182.70,860.30 C182.92,863.60 181.30,867.38 181.30,870.90 C181.30,874.42 181.60,877.45 182.70,881.40 C183.80,885.35 186.15,890.22 187.90,894.60 C189.65,898.98 190.78,903.53 193.20,907.70 C195.62,911.87 200.87,917.62 202.40,919.60" transform="translate(-1.3,-1.3)" fill="none" stroke="#BDBDBD" stroke-width="9" stroke-linecap="round" stroke-linejoin="round"/>
<path d="M180.00,851.10 C180.45,852.63 182.48,857.00 182.70,860.30 C182.92,863.60 181.30,867.38 181.30,870.90 C181.30,874.42 181.60,877.45 182.70,881.40 C183.80,885.35 186.15,890.22 187.90,894.60 C189.65,898.98 190.78,903.53 193.20,907.70 C195.62,911.87 200.87,917.62 202.40,919.60" transform="translate(1,1)" fill="none" stroke="#D9D9D9" stroke-width="9" stroke-linecap="round" stroke-linejoin="round"/>
<path d="M180.00,851.10 C180.45,852.63 182.48,857.00 182.70,860.30 C182.92,863.60 181.30,867.38 181.30,870.90 C181.30,874.42 181.60,877.45 182.70,881.40 C183.80,885.35 186.15,890.22 187.90,894.60 C189.65,898.98 190.78,903.53 193.20,907.70 C195.62,911.87 200.87,917.62 202.40,919.60" fill="none" stroke="#D6D6D6" stroke-width="7.5" stroke-linecap="round" stroke-linejoin="round"/>
<path d="M165.50,864.30 C165.07,866.05 163.12,871.30 162.90,874.80 C162.68,878.30 162.67,882.00 164.20,885.30 C165.73,888.60 169.47,891.73 172.10,894.60 C174.73,897.47 177.80,899.87 180.00,902.50 C182.20,905.13 183.10,907.55 185.30,910.40 C187.50,913.25 191.88,918.07 193.20,919.60" transform="translate(-1.3,-1.3)" fill="none" stroke="#BDBDBD" stroke-width="8.5" stroke-linecap="round" stroke-linejoin="round"/>
<path d="M165.50,864.30 C165.07,866.05 163.12,871.30 162.90,874.80 C162.68,878.30 162.67,882.00 164.20,885.30 C165.73,888.60 169.47,891.73 172.10,894.60 C174.73,897.47 177.80,899.87 180.00,902.50 C182.20,905.13 183.10,907.55 185.30,910.40 C187.50,913.25 191.88,918.07 193.20,919.60" transform="translate(1,1)" fill="none" stroke="#D9D9D9" stroke-width="8.5" stroke-linecap="round" stroke-linejoin="round"/>
<path d="M165.50,864.30 C165.07,866.05 163.12,871.30 162.90,874.80 C162.68,878.30 162.67,882.00 164.20,885.30 C165.73,888.60 169.47,891.73 172.10,894.60 C174.73,897.47 177.80,899.87 180.00,902.50 C182.20,905.13 183.10,907.55 185.30,910.40 C187.50,913.25 191.88,918.07 193.20,919.60" fill="none" stroke="#D6D6D6" stroke-width="7.0" stroke-linecap="round" stroke-linejoin="round"/>
<path d="M147.10,891.90 C148.63,892.78 153.00,895.43 156.30,897.20 C159.60,898.97 163.38,900.30 166.90,902.50 C170.42,904.70 174.33,907.77 177.40,910.40 C180.47,913.03 182.23,916.33 185.30,918.30 C188.37,920.27 194.05,921.55 195.80,922.20" transform="translate(-1.3,-1.3)" fill="none" stroke="#BDBDBD" stroke-width="9" stroke-linecap="round" stroke-linejoin="round"/>
<path d="M147.10,891.90 C148.63,892.78 153.00,895.43 156.30,897.20 C159.60,898.97 163.38,900.30 166.90,902.50 C170.42,904.70 174.33,907.77 177.40,910.40 C180.47,913.03 182.23,916.33 185.30,918.30 C188.37,920.27 194.05,921.55 195.80,922.20" transform="translate(1,1)" fill="none" stroke="#D9D9D9" stroke-width="9" stroke-linecap="round" stroke-linejoin="round"/>
<path d="M147.10,891.90 C148.63,892.78 153.00,895.43 156.30,897.20 C159.60,898.97 163.38,900.30 166.90,902.50 C170.42,904.70 174.33,907.77 177.40,910.40 C180.47,913.03 182.23,916.33 185.30,918.30 C188.37,920.27 194.05,921.55 195.80,922.20" fill="none" stroke="#D6D6D6" stroke-width="7.5" stroke-linecap="round" stroke-linejoin="round"/>
<path d="M98.40,891.90 C99.72,893.22 103.45,897.60 106.30,899.80 C109.15,902.00 112.87,903.33 115.50,905.10 C118.13,906.87 120.35,908.43 122.10,910.40 C123.85,912.37 125.35,915.82 126.00,916.90" transform="translate(-1.3,-1.3)" fill="none" stroke="#BDBDBD" stroke-width="9" stroke-linecap="round" stroke-linejoin="round"/>
<path d="M98.40,891.90 C99.72,893.22 103.45,897.60 106.30,899.80 C109.15,902.00 112.87,903.33 115.50,905.10 C118.13,906.87 120.35,908.43 122.10,910.40 C123.85,912.37 125.35,915.82 126.00,916.90" transform="translate(1,1)" fill="none" stroke="#D9D9D9" stroke-width="9" stroke-linecap="round" stroke-linejoin="round"/>
<path d="M98.40,891.90 C99.72,893.22 103.45,897.60 106.30,899.80 C109.15,902.00 112.87,903.33 115.50,905.10 C118.13,906.87 120.35,908.43 122.10,910.40 C123.85,912.37 125.35,915.82 126.00,916.90" fill="none" stroke="#D6D6D6" stroke-width="7.5" stroke-linecap="round" stroke-linejoin="round"/>
<path d="M286.30,670.90 C285.87,672.88 283.70,679.28 283.70,682.80 C283.70,686.32 284.77,688.72 286.30,692.00 C287.83,695.28 291.80,699.00 292.90,702.50 C294.00,706.00 293.33,709.70 292.90,713.00 C292.47,716.30 291.17,719.22 290.30,722.30 C289.43,725.38 288.13,729.97 287.70,731.50" transform="translate(-1.3,-1.3)" fill="none" stroke="#BDBDBD" stroke-width="8.5" stroke-linecap="round" stroke-linejoin="round"/>
<path d="M286.30,670.90 C285.87,672.88 283.70,679.28 283.70,682.80 C283.70,686.32 284.77,688.72 286.30,692.00 C287.83,695.28 291.80,699.00 292.90,702.50 C294.00,706.00 293.33,709.70 292.90,713.00 C292.47,716.30 291.17,719.22 290.30,722.30 C289.43,725.38 288.13,729.97 287.70,731.50" transform="translate(1,1)" fill="none" stroke="#D9D9D9" stroke-width="8.5" stroke-linecap="round" stroke-linejoin="round"/>
<path d="M286.30,670.90 C285.87,672.88 283.70,679.28 283.70,682.80 C283.70,686.32 284.77,688.72 286.30,692.00 C287.83,695.28 291.80,699.00 292.90,702.50 C294.00,706.00 293.33,709.70 292.90,713.00 C292.47,716.30 291.17,719.22 290.30,722.30 C289.43,725.38 288.13,729.97 287.70,731.50" fill="none" stroke="#D6D6D6" stroke-width="7.0" stroke-linecap="round" stroke-linejoin="round"/>
<path d="M416.70,673.50 C417.80,676.13 421.65,685.35 423.30,689.30 C424.95,693.25 426.05,695.88 426.60,697.20" transform="translate(-1.3,-1.3)" fill="none" stroke="#BDBDBD" stroke-width="8" stroke-linecap="round" stroke-linejoin="round"/>
<path d="M416.70,673.50 C417.80,676.13 421.65,685.35 423.30,689.30 C424.95,693.25 426.05,695.88 426.60,697.20" transform="translate(1,1)" fill="none" stroke="#D9D9D9" stroke-width="8" stroke-linecap="round" stroke-linejoin="round"/>
<path d="M416.70,673.50 C417.80,676.13 421.65,685.35 423.30,689.30 C424.95,693.25 426.05,695.88 426.60,697.20" fill="none" stroke="#D6D6D6" stroke-width="6.5" stroke-linecap="round" stroke-linejoin="round"/>
<path d="M277.10,765.70 C277.77,767.47 280.00,772.57 281.10,776.30 C282.20,780.03 283.03,783.72 283.70,788.10 C284.37,792.48 285.20,798.02 285.10,802.60 C285.00,807.18 283.43,813.43 283.10,815.60" transform="translate(-1.3,-1.3)" fill="none" stroke="#BDBDBD" stroke-width="8.5" stroke-linecap="round" stroke-linejoin="round"/>
<path d="M277.10,765.70 C277.77,767.47 280.00,772.57 281.10,776.30 C282.20,780.03 283.03,783.72 283.70,788.10 C284.37,792.48 285.20,798.02 285.10,802.60 C285.00,807.18 283.43,813.43 283.10,815.60" transform="translate(1,1)" fill="none" stroke="#D9D9D9" stroke-width="8.5" stroke-linecap="round" stroke-linejoin="round"/>
<path d="M277.10,765.70 C277.77,767.47 280.00,772.57 281.10,776.30 C282.20,780.03 283.03,783.72 283.70,788.10 C284.37,792.48 285.20,798.02 285.10,802.60 C285.00,807.18 283.43,813.43 283.10,815.60" fill="none" stroke="#D6D6D6" stroke-width="7.0" stroke-linecap="round" stroke-linejoin="round"/>
<path d="M295.60,772.30 C295.82,773.85 296.80,778.08 296.90,781.60 C297.00,785.12 296.67,789.07 296.20,793.40 C295.73,797.73 295.28,802.07 294.10,807.60 C292.92,813.13 289.93,823.43 289.10,826.60" transform="translate(-1.3,-1.3)" fill="none" stroke="#BDBDBD" stroke-width="7.5" stroke-linecap="round" stroke-linejoin="round"/>
<path d="M295.60,772.30 C295.82,773.85 296.80,778.08 296.90,781.60 C297.00,785.12 296.67,789.07 296.20,793.40 C295.73,797.73 295.28,802.07 294.10,807.60 C292.92,813.13 289.93,823.43 289.10,826.60" transform="translate(1,1)" fill="none" stroke="#D9D9D9" stroke-width="7.5" stroke-linecap="round" stroke-linejoin="round"/>
<path d="M295.60,772.30 C295.82,773.85 296.80,778.08 296.90,781.60 C297.00,785.12 296.67,789.07 296.20,793.40 C295.73,797.73 295.28,802.07 294.10,807.60 C292.92,813.13 289.93,823.43 289.10,826.60" fill="none" stroke="#D6D6D6" stroke-width="6.0" stroke-linecap="round" stroke-linejoin="round"/>
<path d="M308.70,753.90 C308.70,756.32 308.92,763.78 308.70,768.40 C308.48,773.02 307.83,777.22 307.40,781.60 C306.97,785.98 306.53,790.98 306.10,794.70 C305.67,798.42 305.42,800.78 304.80,803.90 C304.18,807.02 302.80,811.82 302.40,813.40" transform="translate(-1.3,-1.3)" fill="none" stroke="#BDBDBD" stroke-width="8.5" stroke-linecap="round" stroke-linejoin="round"/>
<path d="M308.70,753.90 C308.70,756.32 308.92,763.78 308.70,768.40 C308.48,773.02 307.83,777.22 307.40,781.60 C306.97,785.98 306.53,790.98 306.10,794.70 C305.67,798.42 305.42,800.78 304.80,803.90 C304.18,807.02 302.80,811.82 302.40,813.40" transform="translate(1,1)" fill="none" stroke="#D9D9D9" stroke-width="8.5" stroke-linecap="round" stroke-linejoin="round"/>
<path d="M308.70,753.90 C308.70,756.32 308.92,763.78 308.70,768.40 C308.48,773.02 307.83,777.22 307.40,781.60 C306.97,785.98 306.53,790.98 306.10,794.70 C305.67,798.42 305.42,800.78 304.80,803.90 C304.18,807.02 302.80,811.82 302.40,813.40" fill="none" stroke="#D6D6D6" stroke-width="7.0" stroke-linecap="round" stroke-linejoin="round"/>
<path d="M371.90,747.30 C372.13,749.50 373.52,756.12 373.30,760.50 C373.08,764.88 371.70,769.22 370.60,773.60 C369.50,777.98 367.95,781.97 366.70,786.80 C365.45,791.63 364.97,797.33 363.10,802.60 C361.23,807.87 356.77,815.77 355.50,818.40" transform="translate(-1.3,-1.3)" fill="none" stroke="#BDBDBD" stroke-width="9" stroke-linecap="round" stroke-linejoin="round"/>
<path d="M371.90,747.30 C372.13,749.50 373.52,756.12 373.30,760.50 C373.08,764.88 371.70,769.22 370.60,773.60 C369.50,777.98 367.95,781.97 366.70,786.80 C365.45,791.63 364.97,797.33 363.10,802.60 C361.23,807.87 356.77,815.77 355.50,818.40" transform="translate(1,1)" fill="none" stroke="#D9D9D9" stroke-width="9" stroke-linecap="round" stroke-linejoin="round"/>
<path d="M371.90,747.30 C372.13,749.50 373.52,756.12 373.30,760.50 C373.08,764.88 371.70,769.22 370.60,773.60 C369.50,777.98 367.95,781.97 366.70,786.80 C365.45,791.63 364.97,797.33 363.10,802.60 C361.23,807.87 356.77,815.77 355.50,818.40" fill="none" stroke="#D6D6D6" stroke-width="7.5" stroke-linecap="round" stroke-linejoin="round"/>
<path d="M330.00,877.30 C331.72,877.30 337.12,878.05 340.30,877.30 C343.48,876.55 346.40,875.02 349.10,872.80 C351.80,870.58 354.03,866.20 356.50,864.00 C358.97,861.80 360.70,861.08 363.90,859.60 C367.10,858.12 371.77,856.83 375.70,855.10 C379.63,853.37 383.57,851.40 387.50,849.20 C391.43,847.00 397.33,843.12 399.30,841.90" transform="translate(-1.3,-1.3)" fill="none" stroke="#BDBDBD" stroke-width="8.5" stroke-linecap="round" stroke-linejoin="round"/>
<path d="M330.00,877.30 C331.72,877.30 337.12,878.05 340.30,877.30 C343.48,876.55 346.40,875.02 349.10,872.80 C351.80,870.58 354.03,866.20 356.50,864.00 C358.97,861.80 360.70,861.08 363.90,859.60 C367.10,858.12 371.77,856.83 375.70,855.10 C379.63,853.37 383.57,851.40 387.50,849.20 C391.43,847.00 397.33,843.12 399.30,841.90" transform="translate(1,1)" fill="none" stroke="#D9D9D9" stroke-width="8.5" stroke-linecap="round" stroke-linejoin="round"/>
<path d="M330.00,877.30 C331.72,877.30 337.12,878.05 340.30,877.30 C343.48,876.55 346.40,875.02 349.10,872.80 C351.80,870.58 354.03,866.20 356.50,864.00 C358.97,861.80 360.70,861.08 363.90,859.60 C367.10,858.12 371.77,856.83 375.70,855.10 C379.63,853.37 383.57,851.40 387.50,849.20 C391.43,847.00 397.33,843.12 399.30,841.90" fill="none" stroke="#D6D6D6" stroke-width="7.0" stroke-linecap="round" stroke-linejoin="round"/>
<path d="M244.40,821.20 C245.63,822.68 249.33,826.90 251.80,830.10 C254.27,833.30 256.98,837.22 259.20,840.40 C261.42,843.58 263.38,846.25 265.10,849.20 C266.82,852.15 268.28,855.15 269.50,858.10 C270.72,861.05 271.67,863.70 272.40,866.90 C273.13,870.10 273.65,875.57 273.90,877.30" transform="translate(-1.3,-1.3)" fill="none" stroke="#BDBDBD" stroke-width="8.5" stroke-linecap="round" stroke-linejoin="round"/>
<path d="M244.40,821.20 C245.63,822.68 249.33,826.90 251.80,830.10 C254.27,833.30 256.98,837.22 259.20,840.40 C261.42,843.58 263.38,846.25 265.10,849.20 C266.82,852.15 268.28,855.15 269.50,858.10 C270.72,861.05 271.67,863.70 272.40,866.90 C273.13,870.10 273.65,875.57 273.90,877.30" transform="translate(1,1)" fill="none" stroke="#D9D9D9" stroke-width="8.5" stroke-linecap="round" stroke-linejoin="round"/>
<path d="M244.40,821.20 C245.63,822.68 249.33,826.90 251.80,830.10 C254.27,833.30 256.98,837.22 259.20,840.40 C261.42,843.58 263.38,846.25 265.10,849.20 C266.82,852.15 268.28,855.15 269.50,858.10 C270.72,861.05 271.67,863.70 272.40,866.90 C273.13,870.10 273.65,875.57 273.90,877.30" fill="none" stroke="#D6D6D6" stroke-width="7.0" stroke-linecap="round" stroke-linejoin="round"/>
<path d="M253.30,849.20 C254.03,850.68 256.48,855.15 257.70,858.10 C258.92,861.05 259.87,863.95 260.60,866.90 C261.33,869.85 261.85,874.32 262.10,875.80" transform="translate(-1.3,-1.3)" fill="none" stroke="#BDBDBD" stroke-width="7.5" stroke-linecap="round" stroke-linejoin="round"/>
<path d="M253.30,849.20 C254.03,850.68 256.48,855.15 257.70,858.10 C258.92,861.05 259.87,863.95 260.60,866.90 C261.33,869.85 261.85,874.32 262.10,875.80" transform="translate(1,1)" fill="none" stroke="#D9D9D9" stroke-width="7.5" stroke-linecap="round" stroke-linejoin="round"/>
<path d="M253.30,849.20 C254.03,850.68 256.48,855.15 257.70,858.10 C258.92,861.05 259.87,863.95 260.60,866.90 C261.33,869.85 261.85,874.32 262.10,875.80" fill="none" stroke="#D6D6D6" stroke-width="6.0" stroke-linecap="round" stroke-linejoin="round"/>
<path d="M423.10,816.60 C423.60,817.60 425.60,821.60 426.10,822.60" transform="translate(-1.3,-1.3)" fill="none" stroke="#BDBDBD" stroke-width="8" stroke-linecap="round" stroke-linejoin="round"/>
<path d="M423.10,816.60 C423.60,817.60 425.60,821.60 426.10,822.60" transform="translate(1,1)" fill="none" stroke="#D9D9D9" stroke-width="8" stroke-linecap="round" stroke-linejoin="round"/>
<path d="M423.10,816.60 C423.60,817.60 425.60,821.60 426.10,822.60" fill="none" stroke="#D6D6D6" stroke-width="6.5" stroke-linecap="round" stroke-linejoin="round"/>
<path d="M92.10,808.60 C92.60,808.77 94.60,809.43 95.10,809.60" transform="translate(-1.3,-1.3)" fill="none" stroke="#BDBDBD" stroke-width="7" stroke-linecap="round" stroke-linejoin="round"/>
<path d="M92.10,808.60 C92.60,808.77 94.60,809.43 95.10,809.60" transform="translate(1,1)" fill="none" stroke="#D9D9D9" stroke-width="7" stroke-linecap="round" stroke-linejoin="round"/>
<path d="M92.10,808.60 C92.60,808.77 94.60,809.43 95.10,809.60" fill="none" stroke="#D6D6D6" stroke-width="5.5" stroke-linecap="round" stroke-linejoin="round"/>
</g>
</g>
<rect x="93.1" y="662.6" width="333.79999999999995" height="285.29999999999995" fill="none" stroke="#000" stroke-width="2"/>
<rect x="439.4" y="662.6" width="334.0" height="285.29999999999995" fill="#CDCDCD"/>
<g clip-path="url(#cp1)"><g filter="url(#bl)">
<path d="M491.85,750.37 C494.89,750.73 503.92,750.95 510.09,752.52 C516.26,754.08 525.73,758.55 528.86,759.76" transform="translate(-1.3,-1.3)" fill="none" stroke="#BDBDBD" stroke-width="7" stroke-linecap="round" stroke-linejoin="round"/>
<path d="M491.85,750.37 C494.89,750.73 503.92,750.95 510.09,752.52 C516.26,754.08 525.73,758.55 528.86,759.76" transform="translate(1,1)" fill="none" stroke="#D9D9D9" stroke-width="7" stroke-linecap="round" stroke-linejoin="round"/>
<path d="M491.85,750.37 C494.89,750.73 503.92,750.95 510.09,752.52 C516.26,754.08 525.73,758.55 528.86,759.76" fill="none" stroke="#E4E4E4" stroke-width="5.5" stroke-linecap="round" stroke-linejoin="round"/>
<path d="M564.26,746.35 C566.85,743.67 574.54,732.94 579.81,730.26 C585.08,727.58 589.73,729.90 595.90,730.26 C602.07,730.62 613.33,732.05 616.82,732.41" transform="translate(-1.3,-1.3)" fill="none" stroke="#BDBDBD" stroke-width="7" stroke-linecap="round" stroke-linejoin="round"/>
<path d="M564.26,746.35 C566.85,743.67 574.54,732.94 579.81,730.26 C585.08,727.58 589.73,729.90 595.90,730.26 C602.07,730.62 613.33,732.05 616.82,732.41" transform="translate(1,1)" fill="none" stroke="#D9D9D9" stroke-width="7" stroke-linecap="round" stroke-linejoin="round"/>
<path d="M564.26,746.35 C566.85,743.67 574.54,732.94 579.81,730.26 C585.08,727.58 589.73,729.90 595.90,730.26 C602.07,730.62 613.33,732.05 616.82,732.41" fill="none" stroke="#D6D6D6" stroke-width="5.5" stroke-linecap="round" stroke-linejoin="round"/>
<path d="M666.16,761.37 C667.86,757.08 671.97,742.60 676.35,735.62 C680.73,728.65 687.08,724.90 692.44,719.53 C697.81,714.17 701.47,708.45 708.53,703.44 C715.59,698.44 730.43,691.82 734.81,689.50" transform="translate(-1.3,-1.3)" fill="none" stroke="#BDBDBD" stroke-width="7" stroke-linecap="round" stroke-linejoin="round"/>
<path d="M666.16,761.37 C667.86,757.08 671.97,742.60 676.35,735.62 C680.73,728.65 687.08,724.90 692.44,719.53 C697.81,714.17 701.47,708.45 708.53,703.44 C715.59,698.44 730.43,691.82 734.81,689.50" transform="translate(1,1)" fill="none" stroke="#D9D9D9" stroke-width="7" stroke-linecap="round" stroke-linejoin="round"/>
<path d="M666.16,761.37 C667.86,757.08 671.97,742.60 676.35,735.62 C680.73,728.65 687.08,724.90 692.44,719.53 C697.81,714.17 701.47,708.45 708.53,703.44 C715.59,698.44 730.43,691.82 734.81,689.50" fill="none" stroke="#D6D6D6" stroke-width="5.5" stroke-linecap="round" stroke-linejoin="round"/>
<path d="M689.76,686.82 C691.99,685.03 698.25,678.86 703.17,676.09 C708.08,673.32 716.58,671.17 719.26,670.19" transform="translate(-1.3,-1.3)" fill="none" stroke="#BDBDBD" stroke-width="6" stroke-linecap="round" stroke-linejoin="round"/>
<path d="M689.76,686.82 C691.99,685.03 698.25,678.86 703.17,676.09 C708.08,673.32 716.58,671.17 719.26,670.19" transform="translate(1,1)" fill="none" stroke="#D9D9D9" stroke-width="6" stroke-linecap="round" stroke-linejoin="round"/>
<path d="M689.76,686.82 C691.99,685.03 698.25,678.86 703.17,676.09 C708.08,673.32 716.58,671.17 719.26,670.19" fill="none" stroke="#D6D6D6" stroke-width="4.5" stroke-linecap="round" stroke-linejoin="round"/>
<path d="M620.57,786.04 C624.06,789.17 635.32,799.00 641.49,804.81 C647.66,810.62 654.90,818.22 657.58,820.90" transform="translate(-1.3,-1.3)" fill="none" stroke="#BDBDBD" stroke-width="6" stroke-linecap="round" stroke-linejoin="round"/>
<path d="M620.57,786.04 C624.06,789.17 635.32,799.00 641.49,804.81 C647.66,810.62 654.90,818.22 657.58,820.90" transform="translate(1,1)" fill="none" stroke="#D9D9D9" stroke-width="6" stroke-linecap="round" stroke-linejoin="round"/>
<path d="M620.57,786.04 C624.06,789.17 635.32,799.00 641.49,804.81 C647.66,810.62 654.90,818.22 657.58,820.90" fill="none" stroke="#D6D6D6" stroke-width="4.5" stroke-linecap="round" stroke-linejoin="round"/>
<path d="M657.58,820.90 C660.71,819.56 669.20,815.00 676.35,812.86 C683.50,810.71 696.46,808.83 700.49,808.03" transform="translate(-1.3,-1.3)" fill="none" stroke="#BDBDBD" stroke-width="7" stroke-linecap="round" stroke-linejoin="round"/>
<path d="M657.58,820.90 C660.71,819.56 669.20,815.00 676.35,812.86 C683.50,810.71 696.46,808.83 700.49,808.03" transform="translate(1,1)" fill="none" stroke="#D9D9D9" stroke-width="7" stroke-linecap="round" stroke-linejoin="round"/>
<path d="M657.58,820.90 C660.71,819.56 669.20,815.00 676.35,812.86 C683.50,810.71 696.46,808.83 700.49,808.03" fill="none" stroke="#D6D6D6" stroke-width="5.5" stroke-linecap="round" stroke-linejoin="round"/>
<path d="M655.43,826.26 C654.45,831.18 653.11,845.93 649.53,855.76 C645.96,865.60 636.57,880.35 633.98,885.26" transform="translate(-1.3,-1.3)" fill="none" stroke="#BDBDBD" stroke-width="7" stroke-linecap="round" stroke-linejoin="round"/>
<path d="M655.43,826.26 C654.45,831.18 653.11,845.93 649.53,855.76 C645.96,865.60 636.57,880.35 633.98,885.26" transform="translate(1,1)" fill="none" stroke="#D9D9D9" stroke-width="7" stroke-linecap="round" stroke-linejoin="round"/>
<path d="M655.43,826.26 C654.45,831.18 653.11,845.93 649.53,855.76 C645.96,865.60 636.57,880.35 633.98,885.26" fill="none" stroke="#D6D6D6" stroke-width="5.5" stroke-linecap="round" stroke-linejoin="round"/>
<path d="M507.94,840.21 C511.43,839.32 522.24,835.07 528.86,834.85 C535.47,834.62 541.91,838.64 547.63,838.87 C553.35,839.09 560.59,836.63 563.18,836.19" transform="translate(-1.3,-1.3)" fill="none" stroke="#BDBDBD" stroke-width="7" stroke-linecap="round" stroke-linejoin="round"/>
<path d="M507.94,840.21 C511.43,839.32 522.24,835.07 528.86,834.85 C535.47,834.62 541.91,838.64 547.63,838.87 C553.35,839.09 560.59,836.63 563.18,836.19" transform="translate(1,1)" fill="none" stroke="#D9D9D9" stroke-width="7" stroke-linecap="round" stroke-linejoin="round"/>
<path d="M507.94,840.21 C511.43,839.32 522.24,835.07 528.86,834.85 C535.47,834.62 541.91,838.64 547.63,838.87 C553.35,839.09 560.59,836.63 563.18,836.19" fill="none" stroke="#E4E4E4" stroke-width="5.5" stroke-linecap="round" stroke-linejoin="round"/>
<path d="M590.00,853.62 C587.50,857.10 578.83,866.58 574.98,874.53 C571.14,882.49 569.62,893.84 566.94,901.35 C564.26,908.86 560.23,916.55 558.89,919.59" transform="translate(-1.3,-1.3)" fill="none" stroke="#BDBDBD" stroke-width="7" stroke-linecap="round" stroke-linejoin="round"/>
<path d="M590.00,853.62 C587.50,857.10 578.83,866.58 574.98,874.53 C571.14,882.49 569.62,893.84 566.94,901.35 C564.26,908.86 560.23,916.55 558.89,919.59" transform="translate(1,1)" fill="none" stroke="#D9D9D9" stroke-width="7" stroke-linecap="round" stroke-linejoin="round"/>
<path d="M590.00,853.62 C587.50,857.10 578.83,866.58 574.98,874.53 C571.14,882.49 569.62,893.84 566.94,901.35 C564.26,908.86 560.23,916.55 558.89,919.59" fill="none" stroke="#D6D6D6" stroke-width="5.5" stroke-linecap="round" stroke-linejoin="round"/>
<path d="M467.18,716.85 C468.52,723.56 473.88,750.37 475.23,757.08" transform="translate(-1.3,-1.3)" fill="none" stroke="#BDBDBD" stroke-width="6" stroke-linecap="round" stroke-linejoin="round"/>
<path d="M467.18,716.85 C468.52,723.56 473.88,750.37 475.23,757.08" transform="translate(1,1)" fill="none" stroke="#D9D9D9" stroke-width="6" stroke-linecap="round" stroke-linejoin="round"/>
<path d="M467.18,716.85 C468.52,723.56 473.88,750.37 475.23,757.08" fill="none" stroke="#D6D6D6" stroke-width="4.5" stroke-linecap="round" stroke-linejoin="round"/>
<path d="M489.17,909.93 C493.55,910.16 507.58,912.17 515.45,911.27 C523.32,910.38 532.88,905.69 536.37,904.57" transform="translate(-1.3,-1.3)" fill="none" stroke="#BDBDBD" stroke-width="6" stroke-linecap="round" stroke-linejoin="round"/>
<path d="M489.17,909.93 C493.55,910.16 507.58,912.17 515.45,911.27 C523.32,910.38 532.88,905.69 536.37,904.57" transform="translate(1,1)" fill="none" stroke="#D9D9D9" stroke-width="6" stroke-linecap="round" stroke-linejoin="round"/>
<path d="M489.17,909.93 C493.55,910.16 507.58,912.17 515.45,911.27 C523.32,910.38 532.88,905.69 536.37,904.57" fill="none" stroke="#D6D6D6" stroke-width="4.5" stroke-linecap="round" stroke-linejoin="round"/>
</g>
</g>
<rect x="439.4" y="662.6" width="334.0" height="285.29999999999995" fill="none" stroke="#000" stroke-width="2"/>
<rect x="93.1" y="957.1" width="333.79999999999995" height="283.9" fill="#C0BBB9"/>
<g clip-path="url(#cp2)"><g filter="url(#bl)">
<path d="M164.20,1046.70 C165.52,1045.38 169.47,1041.12 172.10,1038.80 C174.73,1036.48 176.92,1034.57 180.00,1032.80 C183.08,1031.03 187.08,1029.40 190.60,1028.20 C194.12,1027.00 198.03,1026.70 201.10,1025.60 C204.17,1024.50 206.37,1023.37 209.00,1021.60 C211.63,1019.83 214.27,1016.97 216.90,1015.00 C219.53,1013.03 222.17,1011.12 224.80,1009.80 C227.43,1008.48 231.38,1007.55 232.70,1007.10" transform="translate(-1.3,-1.3)" fill="none" stroke="#B1ABAA" stroke-width="9" stroke-linecap="round" stroke-linejoin="round"/>
<path d="M164.20,1046.70 C165.52,1045.38 169.47,1041.12 172.10,1038.80 C174.73,1036.48 176.92,1034.57 180.00,1032.80 C183.08,1031.03 187.08,1029.40 190.60,1028.20 C194.12,1027.00 198.03,1026.70 201.10,1025.60 C204.17,1024.50 206.37,1023.37 209.00,1021.60 C211.63,1019.83 214.27,1016.97 216.90,1015.00 C219.53,1013.03 222.17,1011.12 224.80,1009.80 C227.43,1008.48 231.38,1007.55 232.70,1007.10" transform="translate(1,1)" fill="none" stroke="#CCC7C6" stroke-width="9" stroke-linecap="round" stroke-linejoin="round"/>
<path d="M164.20,1046.70 C165.52,1045.38 169.47,1041.12 172.10,1038.80 C174.73,1036.48 176.92,1034.57 180.00,1032.80 C183.08,1031.03 187.08,1029.40 190.60,1028.20 C194.12,1027.00 198.03,1026.70 201.10,1025.60 C204.17,1024.50 206.37,1023.37 209.00,1021.60 C211.63,1019.83 214.27,1016.97 216.90,1015.00 C219.53,1013.03 222.17,1011.12 224.80,1009.80 C227.43,1008.48 231.38,1007.55 232.70,1007.10" fill="none" stroke="#C9C4C3" stroke-width="7.5" stroke-linecap="round" stroke-linejoin="round"/>
<path d="M203.70,1049.30 C205.02,1049.08 208.52,1048.43 211.60,1048.00 C214.68,1047.57 218.68,1047.15 222.20,1046.70 C225.72,1046.25 229.42,1045.97 232.70,1045.30 C235.98,1044.63 238.60,1043.90 241.90,1042.70 C245.20,1041.50 250.73,1038.87 252.50,1038.10" transform="translate(-1.3,-1.3)" fill="none" stroke="#B1ABAA" stroke-width="8.5" stroke-linecap="round" stroke-linejoin="round"/>
<path d="M203.70,1049.30 C205.02,1049.08 208.52,1048.43 211.60,1048.00 C214.68,1047.57 218.68,1047.15 222.20,1046.70 C225.72,1046.25 229.42,1045.97 232.70,1045.30 C235.98,1044.63 238.60,1043.90 241.90,1042.70 C245.20,1041.50 250.73,1038.87 252.50,1038.10" transform="translate(1,1)" fill="none" stroke="#CCC7C6" stroke-width="8.5" stroke-linecap="round" stroke-linejoin="round"/>
<path d="M203.70,1049.30 C205.02,1049.08 208.52,1048.43 211.60,1048.00 C214.68,1047.57 218.68,1047.15 222.20,1046.70 C225.72,1046.25 229.42,1045.97 232.70,1045.30 C235.98,1044.63 238.60,1043.90 241.90,1042.70 C245.20,1041.50 250.73,1038.87 252.50,1038.10" fill="none" stroke="#C9C4C3" stroke-width="7.0" stroke-linecap="round" stroke-linejoin="round"/>
<path d="M253.80,1048.00 C252.27,1049.97 247.02,1056.30 244.60,1059.80 C242.18,1063.30 239.75,1065.92 239.30,1069.00 C238.85,1072.08 240.37,1075.00 241.90,1078.30 C243.43,1081.60 246.97,1085.73 248.50,1088.80 C250.03,1091.87 250.67,1095.38 251.10,1096.70" transform="translate(-1.3,-1.3)" fill="none" stroke="#B1ABAA" stroke-width="8.5" stroke-linecap="round" stroke-linejoin="round"/>
<path d="M253.80,1048.00 C252.27,1049.97 247.02,1056.30 244.60,1059.80 C242.18,1063.30 239.75,1065.92 239.30,1069.00 C238.85,1072.08 240.37,1075.00 241.90,1078.30 C243.43,1081.60 246.97,1085.73 248.50,1088.80 C250.03,1091.87 250.67,1095.38 251.10,1096.70" transform="translate(1,1)" fill="none" stroke="#CCC7C6" stroke-width="8.5" stroke-linecap="round" stroke-linejoin="round"/>
<path d="M253.80,1048.00 C252.27,1049.97 247.02,1056.30 244.60,1059.80 C242.18,1063.30 239.75,1065.92 239.30,1069.00 C238.85,1072.08 240.37,1075.00 241.90,1078.30 C243.43,1081.60 246.97,1085.73 248.50,1088.80 C250.03,1091.87 250.67,1095.38 251.10,1096.70" fill="none" stroke="#C9C4C3" stroke-width="7.0" stroke-linecap="round" stroke-linejoin="round"/>
<path d="M180.00,1145.60 C180.45,1147.13 182.48,1151.50 182.70,1154.80 C182.92,1158.10 181.30,1161.88 181.30,1165.40 C181.30,1168.92 181.60,1171.95 182.70,1175.90 C183.80,1179.85 186.15,1184.72 187.90,1189.10 C189.65,1193.48 190.78,1198.03 193.20,1202.20 C195.62,1206.37 200.87,1212.12 202.40,1214.10" transform="translate(-1.3,-1.3)" fill="none" stroke="#B1ABAA" stroke-width="9" stroke-linecap="round" stroke-linejoin="round"/>
<path d="M180.00,1145.60 C180.45,1147.13 182.48,1151.50 182.70,1154.80 C182.92,1158.10 181.30,1161.88 181.30,1165.40 C181.30,1168.92 181.60,1171.95 182.70,1175.90 C183.80,1179.85 186.15,1184.72 187.90,1189.10 C189.65,1193.48 190.78,1198.03 193.20,1202.20 C195.62,1206.37 200.87,1212.12 202.40,1214.10" transform="translate(1,1)" fill="none" stroke="#CCC7C6" stroke-width="9" stroke-linecap="round" stroke-linejoin="round"/>
<path d="M180.00,1145.60 C180.45,1147.13 182.48,1151.50 182.70,1154.80 C182.92,1158.10 181.30,1161.88 181.30,1165.40 C181.30,1168.92 181.60,1171.95 182.70,1175.90 C183.80,1179.85 186.15,1184.72 187.90,1189.10 C189.65,1193.48 190.78,1198.03 193.20,1202.20 C195.62,1206.37 200.87,1212.12 202.40,1214.10" fill="none" stroke="#C9C4C3" stroke-width="7.5" stroke-linecap="round" stroke-linejoin="round"/>
<path d="M165.50,1158.80 C165.07,1160.55 163.12,1165.80 162.90,1169.30 C162.68,1172.80 162.67,1176.50 164.20,1179.80 C165.73,1183.10 169.47,1186.23 172.10,1189.10 C174.73,1191.97 177.80,1194.37 180.00,1197.00 C182.20,1199.63 183.10,1202.05 185.30,1204.90 C187.50,1207.75 191.88,1212.57 193.20,1214.10" transform="translate(-1.3,-1.3)" fill="none" stroke="#B1ABAA" stroke-width="8.5" stroke-linecap="round" stroke-linejoin="round"/>
<path d="M165.50,1158.80 C165.07,1160.55 163.12,1165.80 162.90,1169.30 C162.68,1172.80 162.67,1176.50 164.20,1179.80 C165.73,1183.10 169.47,1186.23 172.10,1189.10 C174.73,1191.97 177.80,1194.37 180.00,1197.00 C182.20,1199.63 183.10,1202.05 185.30,1204.90 C187.50,1207.75 191.88,1212.57 193.20,1214.10" transform="translate(1,1)" fill="none" stroke="#CCC7C6" stroke-width="8.5" stroke-linecap="round" stroke-linejoin="round"/>
<path d="M165.50,1158.80 C165.07,1160.55 163.12,1165.80 162.90,1169.30 C162.68,1172.80 162.67,1176.50 164.20,1179.80 C165.73,1183.10 169.47,1186.23 172.10,1189.10 C174.73,1191.97 177.80,1194.37 180.00,1197.00 C182.20,1199.63 183.10,1202.05 185.30,1204.90 C187.50,1207.75 191.88,1212.57 193.20,1214.10" fill="none" stroke="#C9C4C3" stroke-width="7.0" stroke-linecap="round" stroke-linejoin="round"/>
<path d="M147.10,1186.40 C148.63,1187.28 153.00,1189.93 156.30,1191.70 C159.60,1193.47 163.38,1194.80 166.90,1197.00 C170.42,1199.20 174.33,1202.27 177.40,1204.90 C180.47,1207.53 182.23,1210.83 185.30,1212.80 C188.37,1214.77 194.05,1216.05 195.80,1216.70" transform="translate(-1.3,-1.3)" fill="none" stroke="#B1ABAA" stroke-width="9" stroke-linecap="round" stroke-linejoin="round"/>
<path d="M147.10,1186.40 C148.63,1187.28 153.00,1189.93 156.30,1191.70 C159.60,1193.47 163.38,1194.80 166.90,1197.00 C170.42,1199.20 174.33,1202.27 177.40,1204.90 C180.47,1207.53 182.23,1210.83 185.30,1212.80 C188.37,1214.77 194.05,1216.05 195.80,1216.70" transform="translate(1,1)" fill="none" stroke="#CCC7C6" stroke-width="9" stroke-linecap="round" stroke-linejoin="round"/>
<path d="M147.10,1186.40 C148.63,1187.28 153.00,1189.93 156.30,1191.70 C159.60,1193.47 163.38,1194.80 166.90,1197.00 C170.42,1199.20 174.33,1202.27 177.40,1204.90 C180.47,1207.53 182.23,1210.83 185.30,1212.80 C188.37,1214.77 194.05,1216.05 195.80,1216.70" fill="none" stroke="#C9C4C3" stroke-width="7.5" stroke-linecap="round" stroke-linejoin="round"/>
<path d="M98.40,1186.40 C99.72,1187.72 103.45,1192.10 106.30,1194.30 C109.15,1196.50 112.87,1197.83 115.50,1199.60 C118.13,1201.37 120.35,1202.93 122.10,1204.90 C123.85,1206.87 125.35,1210.32 126.00,1211.40" transform="translate(-1.3,-1.3)" fill="none" stroke="#B1ABAA" stroke-width="9" stroke-linecap="round" stroke-linejoin="round"/>
<path d="M98.40,1186.40 C99.72,1187.72 103.45,1192.10 106.30,1194.30 C109.15,1196.50 112.87,1197.83 115.50,1199.60 C118.13,1201.37 120.35,1202.93 122.10,1204.90 C123.85,1206.87 125.35,1210.32 126.00,1211.40" transform="translate(1,1)" fill="none" stroke="#CCC7C6" stroke-width="9" stroke-linecap="round" stroke-linejoin="round"/>
<path d="M98.40,1186.40 C99.72,1187.72 103.45,1192.10 106.30,1194.30 C109.15,1196.50 112.87,1197.83 115.50,1199.60 C118.13,1201.37 120.35,1202.93 122.10,1204.90 C123.85,1206.87 125.35,1210.32 126.00,1211.40" fill="none" stroke="#C9C4C3" stroke-width="7.5" stroke-linecap="round" stroke-linejoin="round"/>
<path d="M286.30,965.40 C285.87,967.38 283.70,973.78 283.70,977.30 C283.70,980.82 284.77,983.22 286.30,986.50 C287.83,989.78 291.80,993.50 292.90,997.00 C294.00,1000.50 293.33,1004.20 292.90,1007.50 C292.47,1010.80 291.17,1013.72 290.30,1016.80 C289.43,1019.88 288.13,1024.47 287.70,1026.00" transform="translate(-1.3,-1.3)" fill="none" stroke="#B1ABAA" stroke-width="8.5" stroke-linecap="round" stroke-linejoin="round"/>
<path d="M286.30,965.40 C285.87,967.38 283.70,973.78 283.70,977.30 C283.70,980.82 284.77,983.22 286.30,986.50 C287.83,989.78 291.80,993.50 292.90,997.00 C294.00,1000.50 293.33,1004.20 292.90,1007.50 C292.47,1010.80 291.17,1013.72 290.30,1016.80 C289.43,1019.88 288.13,1024.47 287.70,1026.00" transform="translate(1,1)" fill="none" stroke="#CCC7C6" stroke-width="8.5" stroke-linecap="round" stroke-linejoin="round"/>
<path d="M286.30,965.40 C285.87,967.38 283.70,973.78 283.70,977.30 C283.70,980.82 284.77,983.22 286.30,986.50 C287.83,989.78 291.80,993.50 292.90,997.00 C294.00,1000.50 293.33,1004.20 292.90,1007.50 C292.47,1010.80 291.17,1013.72 290.30,1016.80 C289.43,1019.88 288.13,1024.47 287.70,1026.00" fill="none" stroke="#C9C4C3" stroke-width="7.0" stroke-linecap="round" stroke-linejoin="round"/>
<path d="M416.70,968.00 C417.80,970.63 421.65,979.85 423.30,983.80 C424.95,987.75 426.05,990.38 426.60,991.70" transform="translate(-1.3,-1.3)" fill="none" stroke="#B1ABAA" stroke-width="8" stroke-linecap="round" stroke-linejoin="round"/>
<path d="M416.70,968.00 C417.80,970.63 421.65,979.85 423.30,983.80 C424.95,987.75 426.05,990.38 426.60,991.70" transform="translate(1,1)" fill="none" stroke="#CCC7C6" stroke-width="8" stroke-linecap="round" stroke-linejoin="round"/>
<path d="M416.70,968.00 C417.80,970.63 421.65,979.85 423.30,983.80 C424.95,987.75 426.05,990.38 426.60,991.70" fill="none" stroke="#C9C4C3" stroke-width="6.5" stroke-linecap="round" stroke-linejoin="round"/>
<path d="M277.10,1060.20 C277.77,1061.97 280.00,1067.07 281.10,1070.80 C282.20,1074.53 283.03,1078.22 283.70,1082.60 C284.37,1086.98 285.20,1092.52 285.10,1097.10 C285.00,1101.68 283.43,1107.93 283.10,1110.10" transform="translate(-1.3,-1.3)" fill="none" stroke="#B1ABAA" stroke-width="8.5" stroke-linecap="round" stroke-linejoin="round"/>
<path d="M277.10,1060.20 C277.77,1061.97 280.00,1067.07 281.10,1070.80 C282.20,1074.53 283.03,1078.22 283.70,1082.60 C284.37,1086.98 285.20,1092.52 285.10,1097.10 C285.00,1101.68 283.43,1107.93 283.10,1110.10" transform="translate(1,1)" fill="none" stroke="#CCC7C6" stroke-width="8.5" stroke-linecap="round" stroke-linejoin="round"/>
<path d="M277.10,1060.20 C277.77,1061.97 280.00,1067.07 281.10,1070.80 C282.20,1074.53 283.03,1078.22 283.70,1082.60 C284.37,1086.98 285.20,1092.52 285.10,1097.10 C285.00,1101.68 283.43,1107.93 283.10,1110.10" fill="none" stroke="#C9C4C3" stroke-width="7.0" stroke-linecap="round" stroke-linejoin="round"/>
<path d="M295.60,1066.80 C295.82,1068.35 296.80,1072.58 296.90,1076.10 C297.00,1079.62 296.67,1083.57 296.20,1087.90 C295.73,1092.23 295.28,1096.57 294.10,1102.10 C292.92,1107.63 289.93,1117.93 289.10,1121.10" transform="translate(-1.3,-1.3)" fill="none" stroke="#B1ABAA" stroke-width="7.5" stroke-linecap="round" stroke-linejoin="round"/>
<path d="M295.60,1066.80 C295.82,1068.35 296.80,1072.58 296.90,1076.10 C297.00,1079.62 296.67,1083.57 296.20,1087.90 C295.73,1092.23 295.28,1096.57 294.10,1102.10 C292.92,1107.63 289.93,1117.93 289.10,1121.10" transform="translate(1,1)" fill="none" stroke="#CCC7C6" stroke-width="7.5" stroke-linecap="round" stroke-linejoin="round"/>
<path d="M295.60,1066.80 C295.82,1068.35 296.80,1072.58 296.90,1076.10 C297.00,1079.62 296.67,1083.57 296.20,1087.90 C295.73,1092.23 295.28,1096.57 294.10,1102.10 C292.92,1107.63 289.93,1117.93 289.10,1121.10" fill="none" stroke="#C9C4C3" stroke-width="6.0" stroke-linecap="round" stroke-linejoin="round"/>
<path d="M308.70,1048.40 C308.70,1050.82 308.92,1058.28 308.70,1062.90 C308.48,1067.52 307.83,1071.72 307.40,1076.10 C306.97,1080.48 306.53,1085.48 306.10,1089.20 C305.67,1092.92 305.42,1095.28 304.80,1098.40 C304.18,1101.52 302.80,1106.32 302.40,1107.90" transform="translate(-1.3,-1.3)" fill="none" stroke="#B1ABAA" stroke-width="8.5" stroke-linecap="round" stroke-linejoin="round"/>
<path d="M308.70,1048.40 C308.70,1050.82 308.92,1058.28 308.70,1062.90 C308.48,1067.52 307.83,1071.72 307.40,1076.10 C306.97,1080.48 306.53,1085.48 306.10,1089.20 C305.67,1092.92 305.42,1095.28 304.80,1098.40 C304.18,1101.52 302.80,1106.32 302.40,1107.90" transform="translate(1,1)" fill="none" stroke="#CCC7C6" stroke-width="8.5" stroke-linecap="round" stroke-linejoin="round"/>
<path d="M308.70,1048.40 C308.70,1050.82 308.92,1058.28 308.70,1062.90 C308.48,1067.52 307.83,1071.72 307.40,1076.10 C306.97,1080.48 306.53,1085.48 306.10,1089.20 C305.67,1092.92 305.42,1095.28 304.80,1098.40 C304.18,1101.52 302.80,1106.32 302.40,1107.90" fill="none" stroke="#C9C4C3" stroke-width="7.0" stroke-linecap="round" stroke-linejoin="round"/>
<path d="M371.90,1041.80 C372.13,1044.00 373.52,1050.62 373.30,1055.00 C373.08,1059.38 371.70,1063.72 370.60,1068.10 C369.50,1072.48 367.95,1076.47 366.70,1081.30 C365.45,1086.13 364.97,1091.83 363.10,1097.10 C361.23,1102.37 356.77,1110.27 355.50,1112.90" transform="translate(-1.3,-1.3)" fill="none" stroke="#B1ABAA" stroke-width="9" stroke-linecap="round" stroke-linejoin="round"/>
<path d="M371.90,1041.80 C372.13,1044.00 373.52,1050.62 373.30,1055.00 C373.08,1059.38 371.70,1063.72 370.60,1068.10 C369.50,1072.48 367.95,1076.47 366.70,1081.30 C365.45,1086.13 364.97,1091.83 363.10,1097.10 C361.23,1102.37 356.77,1110.27 355.50,1112.90" transform="translate(1,1)" fill="none" stroke="#CCC7C6" stroke-width="9" stroke-linecap="round" stroke-linejoin="round"/>
<path d="M371.90,1041.80 C372.13,1044.00 373.52,1050.62 373.30,1055.00 C373.08,1059.38 371.70,1063.72 370.60,1068.10 C369.50,1072.48 367.95,1076.47 366.70,1081.30 C365.45,1086.13 364.97,1091.83 363.10,1097.10 C361.23,1102.37 356.77,1110.27 355.50,1112.90" fill="none" stroke="#C9C4C3" stroke-width="7.5" stroke-linecap="round" stroke-linejoin="round"/>
<path d="M330.00,1171.80 C331.72,1171.80 337.12,1172.55 340.30,1171.80 C343.48,1171.05 346.40,1169.52 349.10,1167.30 C351.80,1165.08 354.03,1160.70 356.50,1158.50 C358.97,1156.30 360.70,1155.58 363.90,1154.10 C367.10,1152.62 371.77,1151.33 375.70,1149.60 C379.63,1147.87 383.57,1145.90 387.50,1143.70 C391.43,1141.50 397.33,1137.62 399.30,1136.40" transform="translate(-1.3,-1.3)" fill="none" stroke="#B1ABAA" stroke-width="8.5" stroke-linecap="round" stroke-linejoin="round"/>
<path d="M330.00,1171.80 C331.72,1171.80 337.12,1172.55 340.30,1171.80 C343.48,1171.05 346.40,1169.52 349.10,1167.30 C351.80,1165.08 354.03,1160.70 356.50,1158.50 C358.97,1156.30 360.70,1155.58 363.90,1154.10 C367.10,1152.62 371.77,1151.33 375.70,1149.60 C379.63,1147.87 383.57,1145.90 387.50,1143.70 C391.43,1141.50 397.33,1137.62 399.30,1136.40" transform="translate(1,1)" fill="none" stroke="#CCC7C6" stroke-width="8.5" stroke-linecap="round" stroke-linejoin="round"/>
<path d="M330.00,1171.80 C331.72,1171.80 337.12,1172.55 340.30,1171.80 C343.48,1171.05 346.40,1169.52 349.10,1167.30 C351.80,1165.08 354.03,1160.70 356.50,1158.50 C358.97,1156.30 360.70,1155.58 363.90,1154.10 C367.10,1152.62 371.77,1151.33 375.70,1149.60 C379.63,1147.87 383.57,1145.90 387.50,1143.70 C391.43,1141.50 397.33,1137.62 399.30,1136.40" fill="none" stroke="#C9C4C3" stroke-width="7.0" stroke-linecap="round" stroke-linejoin="round"/>
<path d="M244.40,1115.70 C245.63,1117.18 249.33,1121.40 251.80,1124.60 C254.27,1127.80 256.98,1131.72 259.20,1134.90 C261.42,1138.08 263.38,1140.75 265.10,1143.70 C266.82,1146.65 268.28,1149.65 269.50,1152.60 C270.72,1155.55 271.67,1158.20 272.40,1161.40 C273.13,1164.60 273.65,1170.07 273.90,1171.80" transform="translate(-1.3,-1.3)" fill="none" stroke="#B1ABAA" stroke-width="8.5" stroke-linecap="round" stroke-linejoin="round"/>
<path d="M244.40,1115.70 C245.63,1117.18 249.33,1121.40 251.80,1124.60 C254.27,1127.80 256.98,1131.72 259.20,1134.90 C261.42,1138.08 263.38,1140.75 265.10,1143.70 C266.82,1146.65 268.28,1149.65 269.50,1152.60 C270.72,1155.55 271.67,1158.20 272.40,1161.40 C273.13,1164.60 273.65,1170.07 273.90,1171.80" transform="translate(1,1)" fill="none" stroke="#CCC7C6" stroke-width="8.5" stroke-linecap="round" stroke-linejoin="round"/>
<path d="M244.40,1115.70 C245.63,1117.18 249.33,1121.40 251.80,1124.60 C254.27,1127.80 256.98,1131.72 259.20,1134.90 C261.42,1138.08 263.38,1140.75 265.10,1143.70 C266.82,1146.65 268.28,1149.65 269.50,1152.60 C270.72,1155.55 271.67,1158.20 272.40,1161.40 C273.13,1164.60 273.65,1170.07 273.90,1171.80" fill="none" stroke="#C9C4C3" stroke-width="7.0" stroke-linecap="round" stroke-linejoin="round"/>
<path d="M253.30,1143.70 C254.03,1145.18 256.48,1149.65 257.70,1152.60 C258.92,1155.55 259.87,1158.45 260.60,1161.40 C261.33,1164.35 261.85,1168.82 262.10,1170.30" transform="translate(-1.3,-1.3)" fill="none" stroke="#B1ABAA" stroke-width="7.5" stroke-linecap="round" stroke-linejoin="round"/>
<path d="M253.30,1143.70 C254.03,1145.18 256.48,1149.65 257.70,1152.60 C258.92,1155.55 259.87,1158.45 260.60,1161.40 C261.33,1164.35 261.85,1168.82 262.10,1170.30" transform="translate(1,1)" fill="none" stroke="#CCC7C6" stroke-width="7.5" stroke-linecap="round" stroke-linejoin="round"/>
<path d="M253.30,1143.70 C254.03,1145.18 256.48,1149.65 257.70,1152.60 C258.92,1155.55 259.87,1158.45 260.60,1161.40 C261.33,1164.35 261.85,1168.82 262.10,1170.30" fill="none" stroke="#C9C4C3" stroke-width="6.0" stroke-linecap="round" stroke-linejoin="round"/>
<path d="M423.10,1111.10 C423.60,1112.10 425.60,1116.10 426.10,1117.10" transform="translate(-1.3,-1.3)" fill="none" stroke="#B1ABAA" stroke-width="8" stroke-linecap="round" stroke-linejoin="round"/>
<path d="M423.10,1111.10 C423.60,1112.10 425.60,1116.10 426.10,1117.10" transform="translate(1,1)" fill="none" stroke="#CCC7C6" stroke-width="8" stroke-linecap="round" stroke-linejoin="round"/>
<path d="M423.10,1111.10 C423.60,1112.10 425.60,1116.10 426.10,1117.10" fill="none" stroke="#C9C4C3" stroke-width="6.5" stroke-linecap="round" stroke-linejoin="round"/>
<path d="M92.10,1103.10 C92.60,1103.27 94.60,1103.93 95.10,1104.10" transform="translate(-1.3,-1.3)" fill="none" stroke="#B1ABAA" stroke-width="7" stroke-linecap="round" stroke-linejoin="round"/>
<path d="M92.10,1103.10 C92.60,1103.27 94.60,1103.93 95.10,1104.10" transform="translate(1,1)" fill="none" stroke="#CCC7C6" stroke-width="7" stroke-linecap="round" stroke-linejoin="round"/>
<path d="M92.10,1103.10 C92.60,1103.27 94.60,1103.93 95.10,1104.10" fill="none" stroke="#C9C4C3" stroke-width="5.5" stroke-linecap="round" stroke-linejoin="round"/>
<path d="M280.94,1140.94 C283.98,1139.15 293.00,1134.23 299.17,1130.21 C305.34,1126.19 311.69,1121.27 317.94,1116.80 C324.20,1112.33 330.01,1106.97 336.71,1103.39 C343.42,1099.82 354.59,1096.69 358.17,1095.35" transform="translate(-1.3,-1.3)" fill="none" stroke="#C9A3A3" stroke-width="8" stroke-linecap="round" stroke-linejoin="round"/>
<path d="M280.94,1140.94 C283.98,1139.15 293.00,1134.23 299.17,1130.21 C305.34,1126.19 311.69,1121.27 317.94,1116.80 C324.20,1112.33 330.01,1106.97 336.71,1103.39 C343.42,1099.82 354.59,1096.69 358.17,1095.35" fill="none" stroke="#E7A2A2" stroke-width="6.5" stroke-linecap="round" stroke-linejoin="round"/>
</g>
</g>
<rect x="93.1" y="957.1" width="333.79999999999995" height="283.9" fill="none" stroke="#000" stroke-width="2"/>
<rect x="439.4" y="957.1" width="334.0" height="283.9" fill="#C0BBB9"/>
<g clip-path="url(#cp3)"><g filter="url(#bl)">
<path d="M491.85,1044.87 C494.89,1045.23 503.92,1045.45 510.09,1047.02 C516.26,1048.58 525.73,1053.05 528.86,1054.26" transform="translate(-1.3,-1.3)" fill="none" stroke="#B1ABAA" stroke-width="7" stroke-linecap="round" stroke-linejoin="round"/>
<path d="M491.85,1044.87 C494.89,1045.23 503.92,1045.45 510.09,1047.02 C516.26,1048.58 525.73,1053.05 528.86,1054.26" fill="none" stroke="#D8D3D2" stroke-width="5.5" stroke-linecap="round" stroke-linejoin="round"/>
<path d="M564.26,1040.85 C566.85,1038.17 574.54,1027.44 579.81,1024.76 C585.08,1022.08 589.73,1024.40 595.90,1024.76 C602.07,1025.12 613.33,1026.55 616.82,1026.91" transform="translate(-1.3,-1.3)" fill="none" stroke="#C9A8A7" stroke-width="8" stroke-linecap="round" stroke-linejoin="round"/>
<path d="M564.26,1040.85 C566.85,1038.17 574.54,1027.44 579.81,1024.76 C585.08,1022.08 589.73,1024.40 595.90,1024.76 C602.07,1025.12 613.33,1026.55 616.82,1026.91" fill="none" stroke="#E6A0A0" stroke-width="6.5" stroke-linecap="round" stroke-linejoin="round"/>
<path d="M666.16,1055.87 C667.86,1051.58 671.97,1037.10 676.35,1030.12 C680.73,1023.15 687.08,1019.40 692.44,1014.03 C697.81,1008.67 701.47,1002.95 708.53,997.94 C715.59,992.94 730.43,986.32 734.81,984.00" transform="translate(-1.3,-1.3)" fill="none" stroke="#C9A8A7" stroke-width="8" stroke-linecap="round" stroke-linejoin="round"/>
<path d="M666.16,1055.87 C667.86,1051.58 671.97,1037.10 676.35,1030.12 C680.73,1023.15 687.08,1019.40 692.44,1014.03 C697.81,1008.67 701.47,1002.95 708.53,997.94 C715.59,992.94 730.43,986.32 734.81,984.00" fill="none" stroke="#E6A0A0" stroke-width="6.5" stroke-linecap="round" stroke-linejoin="round"/>
<path d="M689.76,981.32 C691.99,979.53 698.25,973.36 703.17,970.59 C708.08,967.82 716.58,965.67 719.26,964.69" transform="translate(-1.3,-1.3)" fill="none" stroke="#C9A8A7" stroke-width="7" stroke-linecap="round" stroke-linejoin="round"/>
<path d="M689.76,981.32 C691.99,979.53 698.25,973.36 703.17,970.59 C708.08,967.82 716.58,965.67 719.26,964.69" fill="none" stroke="#E6A0A0" stroke-width="5.5" stroke-linecap="round" stroke-linejoin="round"/>
<path d="M620.57,1080.54 C624.06,1083.67 635.32,1093.50 641.49,1099.31 C647.66,1105.12 654.90,1112.72 657.58,1115.40" transform="translate(-1.3,-1.3)" fill="none" stroke="#C9A8A7" stroke-width="7" stroke-linecap="round" stroke-linejoin="round"/>
<path d="M620.57,1080.54 C624.06,1083.67 635.32,1093.50 641.49,1099.31 C647.66,1105.12 654.90,1112.72 657.58,1115.40" fill="none" stroke="#E6A0A0" stroke-width="5.5" stroke-linecap="round" stroke-linejoin="round"/>
<path d="M657.58,1115.40 C660.71,1114.06 669.20,1109.50 676.35,1107.36 C683.50,1105.21 696.46,1103.33 700.49,1102.53" transform="translate(-1.3,-1.3)" fill="none" stroke="#C9A8A7" stroke-width="8" stroke-linecap="round" stroke-linejoin="round"/>
<path d="M657.58,1115.40 C660.71,1114.06 669.20,1109.50 676.35,1107.36 C683.50,1105.21 696.46,1103.33 700.49,1102.53" fill="none" stroke="#E6A0A0" stroke-width="6.5" stroke-linecap="round" stroke-linejoin="round"/>
<path d="M655.43,1120.76 C654.45,1125.68 653.11,1140.43 649.53,1150.26 C645.96,1160.10 636.57,1174.85 633.98,1179.76" transform="translate(-1.3,-1.3)" fill="none" stroke="#C9A8A7" stroke-width="8" stroke-linecap="round" stroke-linejoin="round"/>
<path d="M655.43,1120.76 C654.45,1125.68 653.11,1140.43 649.53,1150.26 C645.96,1160.10 636.57,1174.85 633.98,1179.76" fill="none" stroke="#E6A0A0" stroke-width="6.5" stroke-linecap="round" stroke-linejoin="round"/>
<path d="M507.94,1134.71 C511.43,1133.82 522.24,1129.57 528.86,1129.35 C535.47,1129.12 541.91,1133.14 547.63,1133.37 C553.35,1133.59 560.59,1131.13 563.18,1130.69" transform="translate(-1.3,-1.3)" fill="none" stroke="#B1ABAA" stroke-width="7" stroke-linecap="round" stroke-linejoin="round"/>
<path d="M507.94,1134.71 C511.43,1133.82 522.24,1129.57 528.86,1129.35 C535.47,1129.12 541.91,1133.14 547.63,1133.37 C553.35,1133.59 560.59,1131.13 563.18,1130.69" fill="none" stroke="#D8D3D2" stroke-width="5.5" stroke-linecap="round" stroke-linejoin="round"/>
<path d="M590.00,1148.12 C587.50,1151.60 578.83,1161.08 574.98,1169.03 C571.14,1176.99 569.62,1188.34 566.94,1195.85 C564.26,1203.36 560.23,1211.05 558.89,1214.09" transform="translate(-1.3,-1.3)" fill="none" stroke="#B1ABAA" stroke-width="7" stroke-linecap="round" stroke-linejoin="round"/>
<path d="M590.00,1148.12 C587.50,1151.60 578.83,1161.08 574.98,1169.03 C571.14,1176.99 569.62,1188.34 566.94,1195.85 C564.26,1203.36 560.23,1211.05 558.89,1214.09" fill="none" stroke="#CAC5C4" stroke-width="5.5" stroke-linecap="round" stroke-linejoin="round"/>
<path d="M467.18,1011.35 C468.52,1018.06 473.88,1044.87 475.23,1051.58" transform="translate(-1.3,-1.3)" fill="none" stroke="#C9A8A7" stroke-width="7" stroke-linecap="round" stroke-linejoin="round"/>
<path d="M467.18,1011.35 C468.52,1018.06 473.88,1044.87 475.23,1051.58" fill="none" stroke="#E6A0A0" stroke-width="5.5" stroke-linecap="round" stroke-linejoin="round"/>
<path d="M489.17,1204.43 C493.55,1204.66 507.58,1206.67 515.45,1205.77 C523.32,1204.88 532.88,1200.19 536.37,1199.07" transform="translate(-1.3,-1.3)" fill="none" stroke="#B1ABAA" stroke-width="6" stroke-linecap="round" stroke-linejoin="round"/>
<path d="M489.17,1204.43 C493.55,1204.66 507.58,1206.67 515.45,1205.77 C523.32,1204.88 532.88,1200.19 536.37,1199.07" fill="none" stroke="#CAC5C4" stroke-width="4.5" stroke-linecap="round" stroke-linejoin="round"/>
</g>
<g filter="url(#bl)">
<path d="M510.10,1132.20 C511.65,1131.53 516.05,1128.77 519.40,1128.20 C522.75,1127.63 526.62,1128.13 530.20,1128.80 C533.78,1129.47 537.33,1131.87 540.90,1132.20 C544.47,1132.53 548.03,1131.58 551.60,1130.80 C555.17,1130.02 560.52,1128.05 562.30,1127.50" transform="translate(-1.3,-1.3)" fill="none" stroke="#ADA8A7" stroke-width="6.5" stroke-linecap="round" stroke-linejoin="round"/>
<path d="M510.10,1132.20 C511.65,1131.53 516.05,1128.77 519.40,1128.20 C522.75,1127.63 526.62,1128.13 530.20,1128.80 C533.78,1129.47 537.33,1131.87 540.90,1132.20 C544.47,1132.53 548.03,1131.58 551.60,1130.80 C555.17,1130.02 560.52,1128.05 562.30,1127.50" fill="none" stroke="#DAD6D4" stroke-width="5.0" stroke-linecap="round" stroke-linejoin="round"/>
<path d="M590.50,1147.60 C589.17,1148.60 584.52,1151.03 582.50,1153.60 C580.48,1156.17 579.53,1159.42 578.40,1163.00 C577.27,1166.58 576.82,1171.30 575.70,1175.10 C574.58,1178.90 573.25,1182.00 571.70,1185.80 C570.15,1189.60 568.18,1194.32 566.40,1197.90 C564.62,1201.48 562.57,1204.18 561.00,1207.30 C559.43,1210.42 557.67,1215.05 557.00,1216.60" transform="translate(-1.3,-1.3)" fill="none" stroke="#ADA8A7" stroke-width="6.5" stroke-linecap="round" stroke-linejoin="round"/>
<path d="M590.50,1147.60 C589.17,1148.60 584.52,1151.03 582.50,1153.60 C580.48,1156.17 579.53,1159.42 578.40,1163.00 C577.27,1166.58 576.82,1171.30 575.70,1175.10 C574.58,1178.90 573.25,1182.00 571.70,1185.80 C570.15,1189.60 568.18,1194.32 566.40,1197.90 C564.62,1201.48 562.57,1204.18 561.00,1207.30 C559.43,1210.42 557.67,1215.05 557.00,1216.60" fill="none" stroke="#DAD6D4" stroke-width="5.0" stroke-linecap="round" stroke-linejoin="round"/>
</g>
<g filter="url(#bl2)">
<path d="M667.60,1053.60 C668.75,1051.07 672.65,1043.47 674.50,1038.40 C676.35,1033.33 676.85,1026.88 678.70,1023.20 C680.55,1019.52 682.85,1018.82 685.60,1016.30 C688.35,1013.78 692.22,1011.08 695.20,1008.10 C698.18,1005.12 700.97,1001.85 703.50,998.40 C706.03,994.95 708.57,991.32 710.40,987.40 C712.23,983.48 713.35,979.05 714.50,974.90 C715.65,970.75 716.60,965.65 717.30,962.50 C718.00,959.35 718.47,957.08 718.70,956.00" fill="none" stroke="#EFA3A6" stroke-width="8.5" stroke-linecap="round" stroke-linejoin="round" opacity="1.0"/>
<path d="M702.10,988.70 C703.48,986.87 707.63,981.15 710.40,977.70 C713.17,974.25 716.40,970.98 718.70,968.00 C721.00,965.02 722.98,961.80 724.20,959.80 C725.42,957.80 725.70,956.63 726.00,956.00" fill="none" stroke="#EFA3A6" stroke-width="8" stroke-linecap="round" stroke-linejoin="round" opacity="0.9"/>
<path d="M704.90,1001.20 C706.97,999.82 713.17,995.43 717.30,992.90 C721.43,990.37 726.72,987.62 729.70,986.00 C732.68,984.38 734.28,983.67 735.20,983.20" fill="none" stroke="#EFA3A6" stroke-width="9" stroke-linecap="round" stroke-linejoin="round" opacity="0.9"/>
<path d="M724.20,973.60 C725.35,972.22 728.80,967.72 731.10,965.30 C733.40,962.88 736.52,960.65 738.00,959.10 C739.48,957.55 739.67,956.52 740.00,956.00" fill="none" stroke="#EFA3A6" stroke-width="8" stroke-linecap="round" stroke-linejoin="round" opacity="0.85"/>
<path d="M484.60,1204.60 C486.38,1205.48 491.28,1209.02 495.30,1209.90 C499.32,1210.78 504.23,1210.57 508.70,1209.90 C513.17,1209.23 517.63,1207.68 522.10,1205.90 C526.57,1204.12 531.03,1202.10 535.50,1199.20 C539.97,1196.30 544.87,1192.52 548.90,1188.50 C552.93,1184.48 556.12,1179.80 559.70,1175.10 C563.28,1170.40 568.62,1162.77 570.40,1160.30" fill="none" stroke="#EFA3A6" stroke-width="7" stroke-linecap="round" stroke-linejoin="round" opacity="0.95"/>
<path d="M526.10,1228.70 C527.67,1225.57 532.13,1215.93 535.50,1209.90 C538.87,1203.87 542.72,1197.85 546.30,1192.50 C549.88,1187.15 553.22,1182.93 557.00,1177.80 C560.78,1172.67 567.00,1164.38 569.00,1161.70" fill="none" stroke="#EFA3A6" stroke-width="9" stroke-linecap="round" stroke-linejoin="round" opacity="0.85"/>
<path d="M532.80,1240.00 C534.15,1236.33 537.98,1224.35 540.90,1218.00 C543.82,1211.65 547.17,1207.05 550.30,1201.90 C553.43,1196.75 558.13,1189.57 559.70,1187.10" fill="none" stroke="#EFA3A6" stroke-width="8" stroke-linecap="round" stroke-linejoin="round" opacity="0.8"/>
<path d="M567.70,1223.30 C568.03,1221.07 569.03,1214.82 569.70,1209.90 C570.37,1204.98 571.13,1198.27 571.70,1193.80 C572.27,1189.33 572.87,1184.88 573.10,1183.10" fill="none" stroke="#EFA3A6" stroke-width="6" stroke-linecap="round" stroke-linejoin="round" opacity="0.7"/>
<path d="M613.80,1077.10 C616.10,1078.25 623.00,1081.02 627.60,1084.00 C632.20,1086.98 639.10,1093.17 641.40,1095.00" fill="none" stroke="#EFA3A6" stroke-width="6" stroke-linecap="round" stroke-linejoin="round" opacity="0.5"/>
<path d="M530.20,1050.80 C532.88,1051.25 540.27,1053.72 546.30,1053.50 C552.33,1053.28 563.05,1050.17 566.40,1049.50" fill="none" stroke="#EFA3A6" stroke-width="7" stroke-linecap="round" stroke-linejoin="round" opacity="0.55"/>
<path d="M650.00,1200.00 C651.33,1203.33 655.50,1213.33 658.00,1220.00 C660.50,1226.67 663.83,1236.67 665.00,1240.00" fill="none" stroke="#EFA3A6" stroke-width="8" stroke-linecap="round" stroke-linejoin="round" opacity="0.55"/>
</g>
</g>
<rect x="439.4" y="957.1" width="334.0" height="283.9" fill="none" stroke="#000" stroke-width="2"/>
<rect x="346.8" y="929.1" width="66.3" height="4.4" fill="#000"/>
<text transform="translate(348.42,919.21) scale(1.0229,1)" font-size="26.48" fill="#000">5 &#181;m</text>
<rect x="692.9" y="929.4" width="66.3" height="3.9" fill="#000"/>
<text transform="translate(693.81,918.98) scale(1.0222,1)" font-size="26.59" fill="#000">5 &#181;m</text>
<rect x="346.7" y="1223.9" width="66.2" height="3.7" fill="#000"/>
<text transform="translate(343.82,1214.82) scale(0.9895,1)" font-size="27.37" fill="#000">5 &#181;m</text>
<rect x="692.8" y="1224.1" width="66.4" height="3.5" fill="#000"/>
<text transform="translate(693.01,1214.91) scale(1.0077,1)" font-size="26.93" fill="#000">5 &#181;m</text>
<path d="M305.2,853.4 L318.2,883.6 L305.4,877.3 L293,883.6Z" fill="#000"/>
<text transform="translate(825.40,647.57) scale(1.0645,1)" font-size="32.93" font-weight="bold" fill="#000">d</text>
<text transform="translate(904.26,675.77) scale(1.0784,1)" font-size="22.99" fill="#000">Cells</text>
<text transform="translate(877.18,703.70) scale(1.0195,1)" font-size="24.58" fill="#000">Images</text>
<text transform="translate(945.97,730.30) scale(0.9744,1)" font-size="26.23" fill="#000">n</text>
<text transform="translate(850.92,757.90) scale(1.1128,1)" font-size="22.63" fill="#000">Mean (%)</text>
<text transform="translate(1008.88,675.76) scale(1.0106,1)" font-size="24.17" fill="#000">350</text>
<text transform="translate(1015.86,704.00) scale(0.9261,1)" font-size="25.02" fill="#000">11</text>
<text transform="translate(1020.83,730.70) scale(1.1406,1)" font-size="24.09" fill="#000">2</text>
<text transform="translate(1016.34,757.85) scale(0.9822,1)" font-size="24.52" fill="#000">75</text>
<text transform="translate(1104.74,675.76) scale(1.0260,1)" font-size="24.17" fill="#000">1028</text>
<text transform="translate(1121.41,703.76) scale(1.0317,1)" font-size="24.31" fill="#000">9</text>
<text transform="translate(1120.70,730.70) scale(1.0767,1)" font-size="24.09" fill="#000">2</text>
<text transform="translate(1121.62,757.85) scale(0.9961,1)" font-size="24.52" fill="#000">5</text>
<text transform="translate(1206.68,675.76) scale(1.0138,1)" font-size="24.17" fill="#000">363</text>
<text transform="translate(1213.14,704.00) scale(0.9363,1)" font-size="25.02" fill="#000">14</text>
<text transform="translate(1217.64,730.70) scale(1.0494,1)" font-size="24.09" fill="#000">2</text>
<text transform="translate(1212.80,757.86) scale(0.9913,1)" font-size="24.17" fill="#000">10</text>
<line x1="973.10" y1="1117.20" x2="1268.00" y2="1117.20" stroke="#E6E6E6" stroke-width="1.5" />
<line x1="973.10" y1="1025.80" x2="1268.00" y2="1025.80" stroke="#E6E6E6" stroke-width="1.5" />
<line x1="973.10" y1="934.40" x2="1268.00" y2="934.40" stroke="#E6E6E6" stroke-width="1.5" />
<line x1="973.10" y1="843.00" x2="1268.00" y2="843.00" stroke="#E6E6E6" stroke-width="1.5" />
<line x1="973.10" y1="1071.50" x2="1268.00" y2="1071.50" stroke="#DCDCDC" stroke-width="2" />
<line x1="973.10" y1="980.10" x2="1268.00" y2="980.10" stroke="#DCDCDC" stroke-width="2" />
<line x1="973.10" y1="888.70" x2="1268.00" y2="888.70" stroke="#DCDCDC" stroke-width="2" />
<line x1="973.10" y1="797.30" x2="1268.00" y2="797.30" stroke="#DCDCDC" stroke-width="2" />
<line x1="1029.00" y1="794.30" x2="1029.00" y2="1177.70" stroke="#DCDCDC" stroke-width="2.2" />
<line x1="1127.00" y1="794.30" x2="1127.00" y2="1177.70" stroke="#DCDCDC" stroke-width="2.2" />
<line x1="1223.00" y1="794.30" x2="1223.00" y2="1177.70" stroke="#DCDCDC" stroke-width="2.2" />
<line x1="973.10" y1="1162.90" x2="1268.00" y2="1162.90" stroke="#000" stroke-width="2.1" />
<line x1="967.50" y1="1162.90" x2="973.10" y2="1162.90" stroke="#d0d0d0" stroke-width="1.2" />
<line x1="967.50" y1="1071.50" x2="973.10" y2="1071.50" stroke="#d0d0d0" stroke-width="1.2" />
<line x1="967.50" y1="980.10" x2="973.10" y2="980.10" stroke="#d0d0d0" stroke-width="1.2" />
<line x1="967.50" y1="888.70" x2="973.10" y2="888.70" stroke="#d0d0d0" stroke-width="1.2" />
<line x1="967.50" y1="797.30" x2="973.10" y2="797.30" stroke="#d0d0d0" stroke-width="1.2" />
<text transform="translate(918.86,805.85) scale(0.9819,1)" font-size="25.02" fill="#000">100</text>
<text transform="translate(931.87,898.55) scale(0.9953,1)" font-size="25.38" fill="#000">75</text>
<text transform="translate(932.20,988.05) scale(0.9949,1)" font-size="25.02" fill="#000">50</text>
<text transform="translate(931.94,1079.45) scale(1.0071,1)" font-size="25.02" fill="#000">25</text>
<text transform="translate(945.89,1170.34) scale(0.9769,1)" font-size="25.72" fill="#000">0</text>
<text transform="translate(888.75,1095.43) rotate(-90) scale(1.0107,1)" font-size="29.17" fill="#000">PI stained cells (%)</text>
<rect x="996.40" y="880.00" width="65.4" height="3.6" fill="#7f7f7f"/>
<rect x="1093.80" y="1142.60" width="65.8" height="3.6" fill="#EC8815"/>
<rect x="1191.00" y="1121.40" width="65.8" height="3.6" fill="#EC8815"/>
<circle cx="1030.00" cy="825.00" r="5.6" fill="#808080" stroke="#5e5e5e" stroke-width="1.0"/>
<circle cx="1018.90" cy="838.50" r="5.6" fill="#808080" stroke="#5e5e5e" stroke-width="1.0"/>
<circle cx="1034.00" cy="849.30" r="5.6" fill="#808080" stroke="#5e5e5e" stroke-width="1.0"/>
<circle cx="1025.00" cy="866.90" r="5.6" fill="#808080" stroke="#5e5e5e" stroke-width="1.0"/>
<circle cx="1013.10" cy="888.80" r="5.6" fill="#808080" stroke="#5e5e5e" stroke-width="1.0"/>
<circle cx="1027.30" cy="885.40" r="5.6" fill="#808080" stroke="#5e5e5e" stroke-width="1.0"/>
<circle cx="1048.60" cy="886.40" r="5.6" fill="#808080" stroke="#5e5e5e" stroke-width="1.0"/>
<circle cx="1033.00" cy="903.30" r="5.6" fill="#808080" stroke="#5e5e5e" stroke-width="1.0"/>
<circle cx="1021.20" cy="909.40" r="5.6" fill="#808080" stroke="#5e5e5e" stroke-width="1.0"/>
<circle cx="1021.20" cy="921.90" r="5.6" fill="#808080" stroke="#5e5e5e" stroke-width="1.0"/>
<circle cx="1034.00" cy="925.20" r="5.6" fill="#808080" stroke="#5e5e5e" stroke-width="1.0"/>
<circle cx="1124.50" cy="1129.90" r="5.6" fill="#EC8815" stroke="#B5620C" stroke-width="1.1"/>
<circle cx="1137.70" cy="1135.70" r="5.6" fill="#EC8815" stroke="#B5620C" stroke-width="1.1"/>
<circle cx="1109.30" cy="1143.40" r="5.6" fill="#EC8815" stroke="#B5620C" stroke-width="1.1"/>
<circle cx="1133.00" cy="1145.80" r="5.6" fill="#EC8815" stroke="#B5620C" stroke-width="1.1"/>
<circle cx="1147.10" cy="1145.10" r="5.6" fill="#EC8815" stroke="#B5620C" stroke-width="1.1"/>
<circle cx="1119.40" cy="1148.50" r="5.6" fill="#EC8815" stroke="#B5620C" stroke-width="1.1"/>
<circle cx="1114.40" cy="1152.50" r="5.6" fill="#EC8815" stroke="#B5620C" stroke-width="1.1"/>
<circle cx="1127.90" cy="1153.60" r="5.6" fill="#EC8815" stroke="#B5620C" stroke-width="1.1"/>
<circle cx="1142.00" cy="1148.50" r="5.6" fill="#EC8815" stroke="#B5620C" stroke-width="1.1"/>
<circle cx="1218.00" cy="1064.10" r="5.6" fill="#EC8815" stroke="#B5620C" stroke-width="1.1"/>
<circle cx="1226.40" cy="1096.20" r="5.6" fill="#EC8815" stroke="#B5620C" stroke-width="1.1"/>
<circle cx="1217.00" cy="1100.20" r="5.6" fill="#EC8815" stroke="#B5620C" stroke-width="1.1"/>
<circle cx="1213.60" cy="1113.10" r="5.6" fill="#EC8815" stroke="#B5620C" stroke-width="1.1"/>
<circle cx="1223.70" cy="1115.40" r="5.6" fill="#EC8815" stroke="#B5620C" stroke-width="1.1"/>
<circle cx="1231.50" cy="1122.20" r="5.6" fill="#EC8815" stroke="#B5620C" stroke-width="1.1"/>
<circle cx="1219.70" cy="1126.60" r="5.6" fill="#EC8815" stroke="#B5620C" stroke-width="1.1"/>
<circle cx="1235.50" cy="1129.30" r="5.6" fill="#EC8815" stroke="#B5620C" stroke-width="1.1"/>
<circle cx="1242.30" cy="1126.60" r="5.6" fill="#EC8815" stroke="#B5620C" stroke-width="1.1"/>
<circle cx="1202.10" cy="1133.30" r="5.6" fill="#EC8815" stroke="#B5620C" stroke-width="1.1"/>
<circle cx="1211.20" cy="1141.10" r="5.6" fill="#EC8815" stroke="#B5620C" stroke-width="1.1"/>
<circle cx="1229.80" cy="1147.50" r="5.6" fill="#EC8815" stroke="#B5620C" stroke-width="1.1"/>
<circle cx="1208.50" cy="1148.50" r="5.6" fill="#EC8815" stroke="#B5620C" stroke-width="1.1"/>
<circle cx="1227.40" cy="1162.00" r="5.6" fill="#EC8815" stroke="#B5620C" stroke-width="1.1"/>
<text transform="translate(909.57,1205.76) scale(1.0242,1)" font-size="24.49" fill="#000">Strain:</text>
<text transform="translate(836.43,1235.77)" font-size="25.20" fill="#000">TMP (&#181;g/ml):</text>
<text transform="translate(880.03,1265.56) scale(1.0384,1)" font-size="24.22" fill="#000">Duration:</text>
<text transform="translate(1018.60,1207.35) scale(1.0923,1)" font-size="19.46" fill="#000">wt</text>
<text transform="translate(1084.37,1207.30) scale(1.0333,1)" font-size="20.35" fill="#000">&#916;CBASS</text>
<text transform="translate(1180.77,1207.30) scale(1.0271,1)" font-size="20.35" fill="#000">&#916;CBASS</text>
<text transform="translate(1023.92,1237.50)" font-size="18.47" fill="#000">1</text>
<text transform="translate(1121.42,1237.32) scale(1.1611,1)" font-size="17.95" fill="#000">3</text>
<text transform="translate(1217.00,1237.32) scale(1.2286,1)" font-size="17.95" fill="#000">6</text>
<text transform="translate(1016.17,1268.20) scale(1.1491,1)" font-size="19.59" fill="#000">6h</text>
<text transform="translate(1114.71,1268.20) scale(1.1080,1)" font-size="19.59" fill="#000">6h</text>
<text transform="translate(1205.01,1268.40) scale(1.0961,1)" font-size="19.86" fill="#000">24h</text>
</svg></body></html>
